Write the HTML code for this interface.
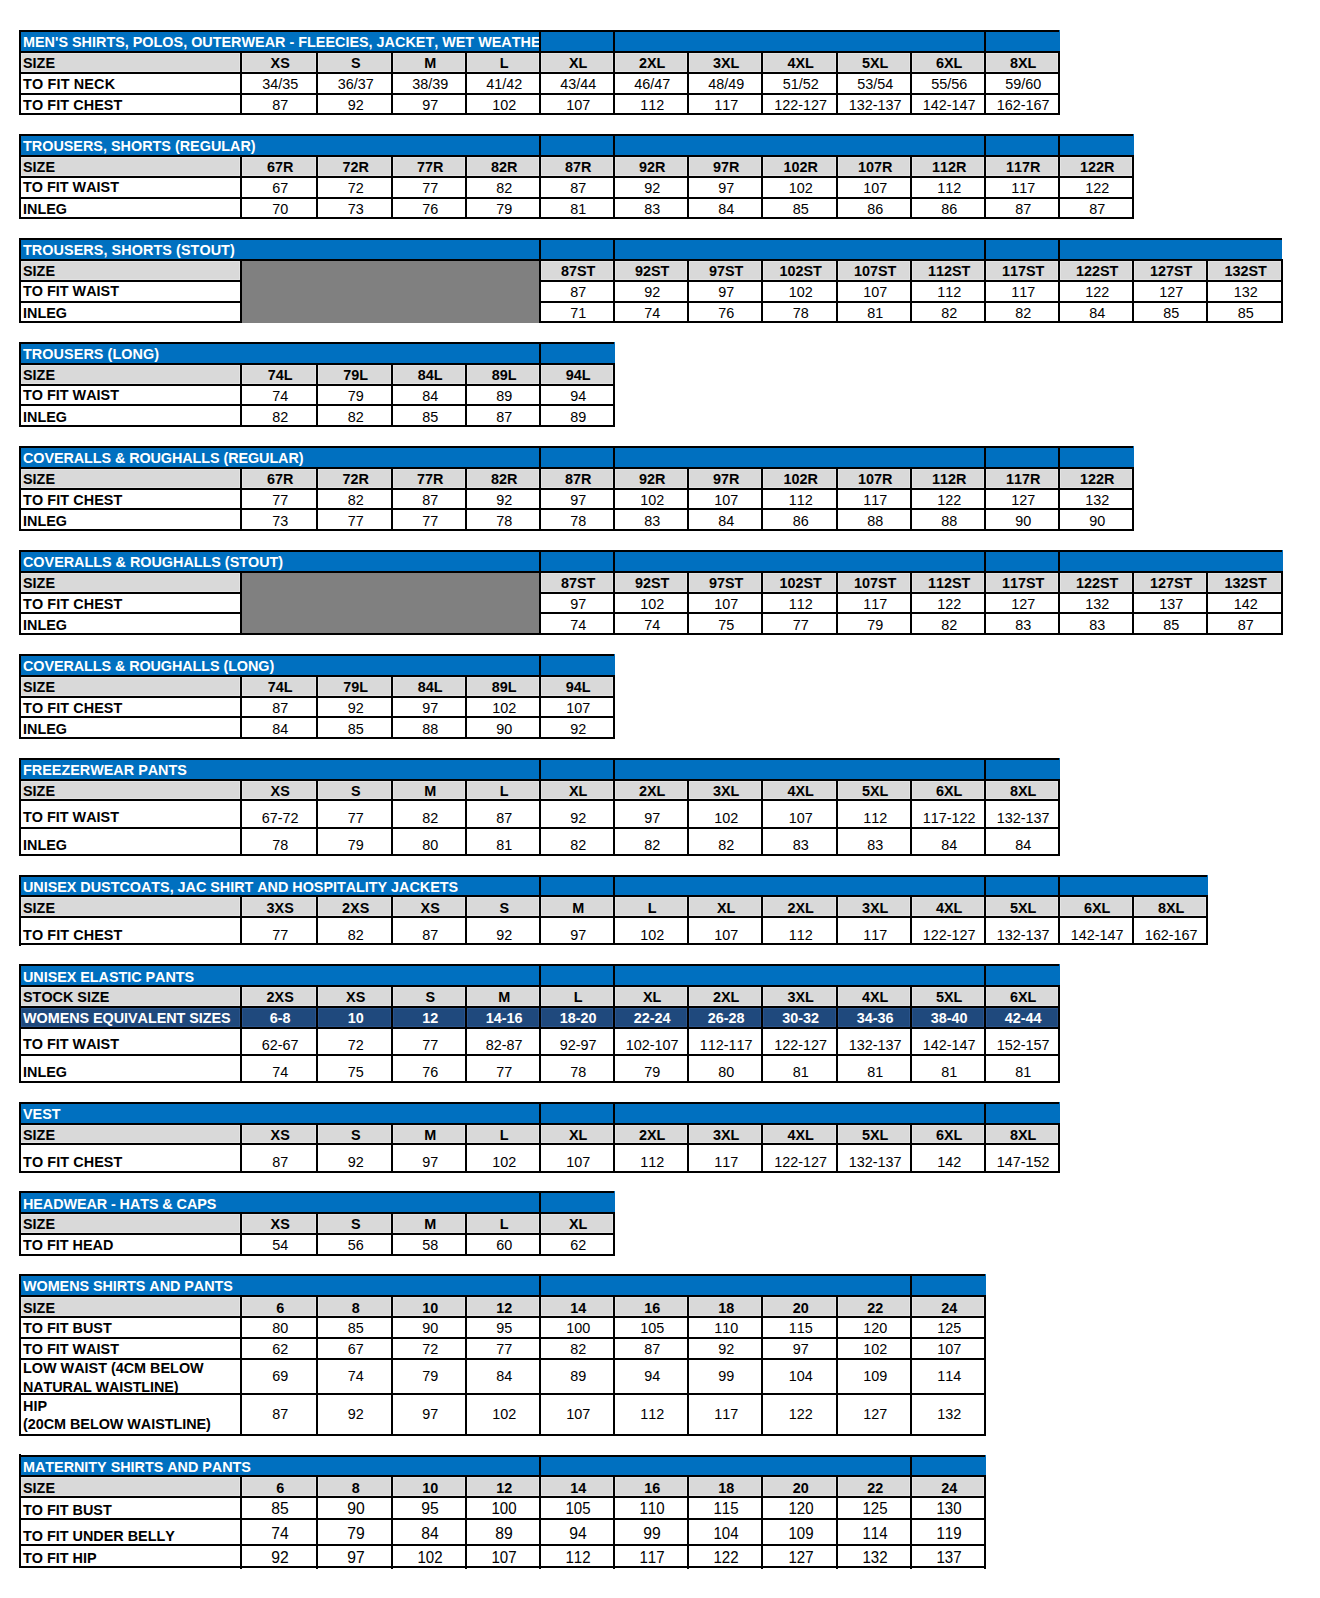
<!DOCTYPE html>
<html><head><meta charset="utf-8"><title>Size Chart</title>
<style>
html,body{margin:0;padding:0;background:#fff}
body{width:1320px;height:1598px;position:relative;overflow:hidden;font-family:"Liberation Sans",sans-serif}
.r{position:absolute}
.t{position:absolute;white-space:nowrap;line-height:20px;height:20px;font-kerning:none}
</style></head><body>
<div class="r" style="left:19px;top:30px;width:1041px;height:22px;background:#0070C0"></div>
<div class="r" style="left:21px;top:53px;width:219px;height:19px;background:#D9D9D9;box-shadow:inset 0 0 0 1px #E3E3E3"></div>
<div class="r" style="left:242px;top:53px;width:74px;height:19px;background:#D9D9D9;box-shadow:inset 0 0 0 1px #E3E3E3"></div>
<div class="r" style="left:318px;top:53px;width:73px;height:19px;background:#D9D9D9;box-shadow:inset 0 0 0 1px #E3E3E3"></div>
<div class="r" style="left:393px;top:53px;width:72px;height:19px;background:#D9D9D9;box-shadow:inset 0 0 0 1px #E3E3E3"></div>
<div class="r" style="left:467px;top:53px;width:72px;height:19px;background:#D9D9D9;box-shadow:inset 0 0 0 1px #E3E3E3"></div>
<div class="r" style="left:541px;top:53px;width:72px;height:19px;background:#D9D9D9;box-shadow:inset 0 0 0 1px #E3E3E3"></div>
<div class="r" style="left:615px;top:53px;width:72px;height:19px;background:#D9D9D9;box-shadow:inset 0 0 0 1px #E3E3E3"></div>
<div class="r" style="left:689px;top:53px;width:72px;height:19px;background:#D9D9D9;box-shadow:inset 0 0 0 1px #E3E3E3"></div>
<div class="r" style="left:763px;top:53px;width:73px;height:19px;background:#D9D9D9;box-shadow:inset 0 0 0 1px #E3E3E3"></div>
<div class="r" style="left:838px;top:53px;width:72px;height:19px;background:#D9D9D9;box-shadow:inset 0 0 0 1px #E3E3E3"></div>
<div class="r" style="left:912px;top:53px;width:72px;height:19px;background:#D9D9D9;box-shadow:inset 0 0 0 1px #E3E3E3"></div>
<div class="r" style="left:986px;top:53px;width:72px;height:19px;background:#D9D9D9;box-shadow:inset 0 0 0 1px #E3E3E3"></div>
<div class="r" style="left:19px;top:30px;width:1040px;height:2px;background:#000"></div>
<div class="r" style="left:19px;top:51px;width:1041px;height:2px;background:#000"></div>
<div class="r" style="left:19px;top:72px;width:1041px;height:2px;background:#000"></div>
<div class="r" style="left:19px;top:93px;width:1041px;height:2px;background:#000"></div>
<div class="r" style="left:19px;top:113px;width:1041px;height:2px;background:#000"></div>
<div class="r" style="left:19px;top:30px;width:2px;height:85px;background:#000"></div>
<div class="r" style="left:240px;top:51px;width:2px;height:64px;background:#000"></div>
<div class="r" style="left:316px;top:51px;width:2px;height:64px;background:#000"></div>
<div class="r" style="left:391px;top:51px;width:2px;height:64px;background:#000"></div>
<div class="r" style="left:465px;top:51px;width:2px;height:64px;background:#000"></div>
<div class="r" style="left:539px;top:51px;width:2px;height:64px;background:#000"></div>
<div class="r" style="left:613px;top:51px;width:2px;height:64px;background:#000"></div>
<div class="r" style="left:687px;top:51px;width:2px;height:64px;background:#000"></div>
<div class="r" style="left:761px;top:51px;width:2px;height:64px;background:#000"></div>
<div class="r" style="left:836px;top:51px;width:2px;height:64px;background:#000"></div>
<div class="r" style="left:910px;top:51px;width:2px;height:64px;background:#000"></div>
<div class="r" style="left:984px;top:51px;width:2px;height:64px;background:#000"></div>
<div class="r" style="left:1058px;top:51px;width:2px;height:64px;background:#000"></div>
<div class="r" style="left:539px;top:30px;width:2px;height:21px;background:#000"></div>
<div class="r" style="left:613px;top:30px;width:2px;height:21px;background:#000"></div>
<div class="r" style="left:984px;top:30px;width:2px;height:21px;background:#000"></div>
<div class="t" style="top:32.01px;font-size:14.4px;font-weight:bold;color:#fff;left:23px;width:516px;overflow:hidden;">MEN&#x27;S SHIRTS, POLOS, OUTERWEAR - FLEECIES, JACKET, WET WEATHER</div>
<div class="t" style="top:53.01px;font-size:14.4px;font-weight:bold;left:23px;">SIZE</div>
<div class="t" style="top:53.01px;font-size:14.4px;font-weight:bold;left:220.20px;width:120px;text-align:center;">XS</div>
<div class="t" style="top:53.01px;font-size:14.4px;font-weight:bold;left:295.70px;width:120px;text-align:center;">S</div>
<div class="t" style="top:53.01px;font-size:14.4px;font-weight:bold;left:370.20px;width:120px;text-align:center;">M</div>
<div class="t" style="top:53.01px;font-size:14.4px;font-weight:bold;left:444.20px;width:120px;text-align:center;">L</div>
<div class="t" style="top:53.01px;font-size:14.4px;font-weight:bold;left:518.20px;width:120px;text-align:center;">XL</div>
<div class="t" style="top:53.01px;font-size:14.4px;font-weight:bold;left:592.20px;width:120px;text-align:center;">2XL</div>
<div class="t" style="top:53.01px;font-size:14.4px;font-weight:bold;left:666.20px;width:120px;text-align:center;">3XL</div>
<div class="t" style="top:53.01px;font-size:14.4px;font-weight:bold;left:740.70px;width:120px;text-align:center;">4XL</div>
<div class="t" style="top:53.01px;font-size:14.4px;font-weight:bold;left:815.20px;width:120px;text-align:center;">5XL</div>
<div class="t" style="top:53.01px;font-size:14.4px;font-weight:bold;left:889.20px;width:120px;text-align:center;">6XL</div>
<div class="t" style="top:53.01px;font-size:14.4px;font-weight:bold;left:963.20px;width:120px;text-align:center;">8XL</div>
<div class="t" style="top:74.01px;font-size:14.4px;font-weight:bold;left:23px;letter-spacing:0.175px;">TO FIT NECK</div>
<div class="t" style="top:74.01px;font-size:14.4px;left:220.20px;width:120px;text-align:center;">34/35</div>
<div class="t" style="top:74.01px;font-size:14.4px;left:295.70px;width:120px;text-align:center;">36/37</div>
<div class="t" style="top:74.01px;font-size:14.4px;left:370.20px;width:120px;text-align:center;">38/39</div>
<div class="t" style="top:74.01px;font-size:14.4px;left:444.20px;width:120px;text-align:center;">41/42</div>
<div class="t" style="top:74.01px;font-size:14.4px;left:518.20px;width:120px;text-align:center;">43/44</div>
<div class="t" style="top:74.01px;font-size:14.4px;left:592.20px;width:120px;text-align:center;">46/47</div>
<div class="t" style="top:74.01px;font-size:14.4px;left:666.20px;width:120px;text-align:center;">48/49</div>
<div class="t" style="top:74.01px;font-size:14.4px;left:740.70px;width:120px;text-align:center;">51/52</div>
<div class="t" style="top:74.01px;font-size:14.4px;left:815.20px;width:120px;text-align:center;">53/54</div>
<div class="t" style="top:74.01px;font-size:14.4px;left:889.20px;width:120px;text-align:center;">55/56</div>
<div class="t" style="top:74.01px;font-size:14.4px;left:963.20px;width:120px;text-align:center;">59/60</div>
<div class="t" style="top:95.01px;font-size:14.4px;font-weight:bold;left:23px;letter-spacing:0.09px;">TO FIT CHEST</div>
<div class="t" style="top:95.01px;font-size:14.4px;left:220.20px;width:120px;text-align:center;">87</div>
<div class="t" style="top:95.01px;font-size:14.4px;left:295.70px;width:120px;text-align:center;">92</div>
<div class="t" style="top:95.01px;font-size:14.4px;left:370.20px;width:120px;text-align:center;">97</div>
<div class="t" style="top:95.01px;font-size:14.4px;left:444.20px;width:120px;text-align:center;">102</div>
<div class="t" style="top:95.01px;font-size:14.4px;left:518.20px;width:120px;text-align:center;">107</div>
<div class="t" style="top:95.01px;font-size:14.4px;left:592.20px;width:120px;text-align:center;">112</div>
<div class="t" style="top:95.01px;font-size:14.4px;left:666.20px;width:120px;text-align:center;">117</div>
<div class="t" style="top:95.01px;font-size:14.4px;left:740.70px;width:120px;text-align:center;">122-127</div>
<div class="t" style="top:95.01px;font-size:14.4px;left:815.20px;width:120px;text-align:center;">132-137</div>
<div class="t" style="top:95.01px;font-size:14.4px;left:889.20px;width:120px;text-align:center;">142-147</div>
<div class="t" style="top:95.01px;font-size:14.4px;left:963.20px;width:120px;text-align:center;">162-167</div>
<div class="r" style="left:19px;top:134px;width:1115px;height:22px;background:#0070C0"></div>
<div class="r" style="left:21px;top:157px;width:219px;height:19px;background:#D9D9D9;box-shadow:inset 0 0 0 1px #E3E3E3"></div>
<div class="r" style="left:242px;top:157px;width:74px;height:19px;background:#D9D9D9;box-shadow:inset 0 0 0 1px #E3E3E3"></div>
<div class="r" style="left:318px;top:157px;width:73px;height:19px;background:#D9D9D9;box-shadow:inset 0 0 0 1px #E3E3E3"></div>
<div class="r" style="left:393px;top:157px;width:72px;height:19px;background:#D9D9D9;box-shadow:inset 0 0 0 1px #E3E3E3"></div>
<div class="r" style="left:467px;top:157px;width:72px;height:19px;background:#D9D9D9;box-shadow:inset 0 0 0 1px #E3E3E3"></div>
<div class="r" style="left:541px;top:157px;width:72px;height:19px;background:#D9D9D9;box-shadow:inset 0 0 0 1px #E3E3E3"></div>
<div class="r" style="left:615px;top:157px;width:72px;height:19px;background:#D9D9D9;box-shadow:inset 0 0 0 1px #E3E3E3"></div>
<div class="r" style="left:689px;top:157px;width:72px;height:19px;background:#D9D9D9;box-shadow:inset 0 0 0 1px #E3E3E3"></div>
<div class="r" style="left:763px;top:157px;width:73px;height:19px;background:#D9D9D9;box-shadow:inset 0 0 0 1px #E3E3E3"></div>
<div class="r" style="left:838px;top:157px;width:72px;height:19px;background:#D9D9D9;box-shadow:inset 0 0 0 1px #E3E3E3"></div>
<div class="r" style="left:912px;top:157px;width:72px;height:19px;background:#D9D9D9;box-shadow:inset 0 0 0 1px #E3E3E3"></div>
<div class="r" style="left:986px;top:157px;width:72px;height:19px;background:#D9D9D9;box-shadow:inset 0 0 0 1px #E3E3E3"></div>
<div class="r" style="left:1060px;top:157px;width:72px;height:19px;background:#D9D9D9;box-shadow:inset 0 0 0 1px #E3E3E3"></div>
<div class="r" style="left:19px;top:134px;width:1114px;height:2px;background:#000"></div>
<div class="r" style="left:19px;top:155px;width:1115px;height:2px;background:#000"></div>
<div class="r" style="left:19px;top:176px;width:1115px;height:2px;background:#000"></div>
<div class="r" style="left:19px;top:197px;width:1115px;height:2px;background:#000"></div>
<div class="r" style="left:19px;top:217px;width:1115px;height:2px;background:#000"></div>
<div class="r" style="left:19px;top:134px;width:2px;height:85px;background:#000"></div>
<div class="r" style="left:240px;top:155px;width:2px;height:64px;background:#000"></div>
<div class="r" style="left:316px;top:155px;width:2px;height:64px;background:#000"></div>
<div class="r" style="left:391px;top:155px;width:2px;height:64px;background:#000"></div>
<div class="r" style="left:465px;top:155px;width:2px;height:64px;background:#000"></div>
<div class="r" style="left:539px;top:155px;width:2px;height:64px;background:#000"></div>
<div class="r" style="left:613px;top:155px;width:2px;height:64px;background:#000"></div>
<div class="r" style="left:687px;top:155px;width:2px;height:64px;background:#000"></div>
<div class="r" style="left:761px;top:155px;width:2px;height:64px;background:#000"></div>
<div class="r" style="left:836px;top:155px;width:2px;height:64px;background:#000"></div>
<div class="r" style="left:910px;top:155px;width:2px;height:64px;background:#000"></div>
<div class="r" style="left:984px;top:155px;width:2px;height:64px;background:#000"></div>
<div class="r" style="left:1058px;top:155px;width:2px;height:64px;background:#000"></div>
<div class="r" style="left:1132px;top:155px;width:2px;height:64px;background:#000"></div>
<div class="r" style="left:539px;top:134px;width:2px;height:21px;background:#000"></div>
<div class="r" style="left:613px;top:134px;width:2px;height:21px;background:#000"></div>
<div class="r" style="left:984px;top:134px;width:2px;height:21px;background:#000"></div>
<div class="r" style="left:1058px;top:134px;width:2px;height:21px;background:#000"></div>
<div class="t" style="top:136.01px;font-size:14.4px;font-weight:bold;color:#fff;left:23px;">TROUSERS, SHORTS (REGULAR)</div>
<div class="t" style="top:157.01px;font-size:14.4px;font-weight:bold;left:23px;">SIZE</div>
<div class="t" style="top:157.01px;font-size:14.4px;font-weight:bold;left:220.20px;width:120px;text-align:center;">67R</div>
<div class="t" style="top:157.01px;font-size:14.4px;font-weight:bold;left:295.70px;width:120px;text-align:center;">72R</div>
<div class="t" style="top:157.01px;font-size:14.4px;font-weight:bold;left:370.20px;width:120px;text-align:center;">77R</div>
<div class="t" style="top:157.01px;font-size:14.4px;font-weight:bold;left:444.20px;width:120px;text-align:center;">82R</div>
<div class="t" style="top:157.01px;font-size:14.4px;font-weight:bold;left:518.20px;width:120px;text-align:center;">87R</div>
<div class="t" style="top:157.01px;font-size:14.4px;font-weight:bold;left:592.20px;width:120px;text-align:center;">92R</div>
<div class="t" style="top:157.01px;font-size:14.4px;font-weight:bold;left:666.20px;width:120px;text-align:center;">97R</div>
<div class="t" style="top:157.01px;font-size:14.4px;font-weight:bold;left:740.70px;width:120px;text-align:center;">102R</div>
<div class="t" style="top:157.01px;font-size:14.4px;font-weight:bold;left:815.20px;width:120px;text-align:center;">107R</div>
<div class="t" style="top:157.01px;font-size:14.4px;font-weight:bold;left:889.20px;width:120px;text-align:center;">112R</div>
<div class="t" style="top:157.01px;font-size:14.4px;font-weight:bold;left:963.20px;width:120px;text-align:center;">117R</div>
<div class="t" style="top:157.01px;font-size:14.4px;font-weight:bold;left:1037.20px;width:120px;text-align:center;">122R</div>
<div class="t" style="top:177.01px;font-size:14.4px;font-weight:bold;left:23px;">TO FIT WAIST</div>
<div class="t" style="top:178.01px;font-size:14.4px;left:220.20px;width:120px;text-align:center;">67</div>
<div class="t" style="top:178.01px;font-size:14.4px;left:295.70px;width:120px;text-align:center;">72</div>
<div class="t" style="top:178.01px;font-size:14.4px;left:370.20px;width:120px;text-align:center;">77</div>
<div class="t" style="top:178.01px;font-size:14.4px;left:444.20px;width:120px;text-align:center;">82</div>
<div class="t" style="top:178.01px;font-size:14.4px;left:518.20px;width:120px;text-align:center;">87</div>
<div class="t" style="top:178.01px;font-size:14.4px;left:592.20px;width:120px;text-align:center;">92</div>
<div class="t" style="top:178.01px;font-size:14.4px;left:666.20px;width:120px;text-align:center;">97</div>
<div class="t" style="top:178.01px;font-size:14.4px;left:740.70px;width:120px;text-align:center;">102</div>
<div class="t" style="top:178.01px;font-size:14.4px;left:815.20px;width:120px;text-align:center;">107</div>
<div class="t" style="top:178.01px;font-size:14.4px;left:889.20px;width:120px;text-align:center;">112</div>
<div class="t" style="top:178.01px;font-size:14.4px;left:963.20px;width:120px;text-align:center;">117</div>
<div class="t" style="top:178.01px;font-size:14.4px;left:1037.20px;width:120px;text-align:center;">122</div>
<div class="t" style="top:199.01px;font-size:14.4px;font-weight:bold;left:23px;">INLEG</div>
<div class="t" style="top:199.01px;font-size:14.4px;left:220.20px;width:120px;text-align:center;">70</div>
<div class="t" style="top:199.01px;font-size:14.4px;left:295.70px;width:120px;text-align:center;">73</div>
<div class="t" style="top:199.01px;font-size:14.4px;left:370.20px;width:120px;text-align:center;">76</div>
<div class="t" style="top:199.01px;font-size:14.4px;left:444.20px;width:120px;text-align:center;">79</div>
<div class="t" style="top:199.01px;font-size:14.4px;left:518.20px;width:120px;text-align:center;">81</div>
<div class="t" style="top:199.01px;font-size:14.4px;left:592.20px;width:120px;text-align:center;">83</div>
<div class="t" style="top:199.01px;font-size:14.4px;left:666.20px;width:120px;text-align:center;">84</div>
<div class="t" style="top:199.01px;font-size:14.4px;left:740.70px;width:120px;text-align:center;">85</div>
<div class="t" style="top:199.01px;font-size:14.4px;left:815.20px;width:120px;text-align:center;">86</div>
<div class="t" style="top:199.01px;font-size:14.4px;left:889.20px;width:120px;text-align:center;">86</div>
<div class="t" style="top:199.01px;font-size:14.4px;left:963.20px;width:120px;text-align:center;">87</div>
<div class="t" style="top:199.01px;font-size:14.4px;left:1037.20px;width:120px;text-align:center;">87</div>
<div class="r" style="left:19px;top:238px;width:1263px;height:22px;background:#0070C0"></div>
<div class="r" style="left:21px;top:261px;width:219px;height:19px;background:#D9D9D9;box-shadow:inset 0 0 0 1px #E3E3E3"></div>
<div class="r" style="left:541px;top:261px;width:72px;height:19px;background:#D9D9D9;box-shadow:inset 0 0 0 1px #E3E3E3"></div>
<div class="r" style="left:615px;top:261px;width:72px;height:19px;background:#D9D9D9;box-shadow:inset 0 0 0 1px #E3E3E3"></div>
<div class="r" style="left:689px;top:261px;width:72px;height:19px;background:#D9D9D9;box-shadow:inset 0 0 0 1px #E3E3E3"></div>
<div class="r" style="left:763px;top:261px;width:73px;height:19px;background:#D9D9D9;box-shadow:inset 0 0 0 1px #E3E3E3"></div>
<div class="r" style="left:838px;top:261px;width:72px;height:19px;background:#D9D9D9;box-shadow:inset 0 0 0 1px #E3E3E3"></div>
<div class="r" style="left:912px;top:261px;width:72px;height:19px;background:#D9D9D9;box-shadow:inset 0 0 0 1px #E3E3E3"></div>
<div class="r" style="left:986px;top:261px;width:72px;height:19px;background:#D9D9D9;box-shadow:inset 0 0 0 1px #E3E3E3"></div>
<div class="r" style="left:1060px;top:261px;width:72px;height:19px;background:#D9D9D9;box-shadow:inset 0 0 0 1px #E3E3E3"></div>
<div class="r" style="left:1134px;top:261px;width:72px;height:19px;background:#D9D9D9;box-shadow:inset 0 0 0 1px #E3E3E3"></div>
<div class="r" style="left:1208px;top:261px;width:73px;height:19px;background:#D9D9D9;box-shadow:inset 0 0 0 1px #E3E3E3"></div>
<div class="r" style="left:19px;top:238px;width:1263px;height:2px;background:#000"></div>
<div class="r" style="left:19px;top:259px;width:1264px;height:2px;background:#000"></div>
<div class="r" style="left:19px;top:280px;width:223px;height:2px;background:#000"></div>
<div class="r" style="left:539px;top:280px;width:744px;height:2px;background:#000"></div>
<div class="r" style="left:19px;top:301px;width:223px;height:2px;background:#000"></div>
<div class="r" style="left:539px;top:301px;width:744px;height:2px;background:#000"></div>
<div class="r" style="left:19px;top:321px;width:1264px;height:2px;background:#000"></div>
<div class="r" style="left:19px;top:238px;width:2px;height:85px;background:#000"></div>
<div class="r" style="left:240px;top:259px;width:2px;height:64px;background:#000"></div>
<div class="r" style="left:539px;top:259px;width:2px;height:64px;background:#000"></div>
<div class="r" style="left:613px;top:259px;width:2px;height:64px;background:#000"></div>
<div class="r" style="left:687px;top:259px;width:2px;height:64px;background:#000"></div>
<div class="r" style="left:761px;top:259px;width:2px;height:64px;background:#000"></div>
<div class="r" style="left:836px;top:259px;width:2px;height:64px;background:#000"></div>
<div class="r" style="left:910px;top:259px;width:2px;height:64px;background:#000"></div>
<div class="r" style="left:984px;top:259px;width:2px;height:64px;background:#000"></div>
<div class="r" style="left:1058px;top:259px;width:2px;height:64px;background:#000"></div>
<div class="r" style="left:1132px;top:259px;width:2px;height:64px;background:#000"></div>
<div class="r" style="left:1206px;top:259px;width:2px;height:64px;background:#000"></div>
<div class="r" style="left:1281px;top:259px;width:2px;height:64px;background:#000"></div>
<div class="r" style="left:539px;top:238px;width:2px;height:21px;background:#000"></div>
<div class="r" style="left:613px;top:238px;width:2px;height:21px;background:#000"></div>
<div class="r" style="left:984px;top:238px;width:2px;height:21px;background:#000"></div>
<div class="r" style="left:1058px;top:238px;width:2px;height:21px;background:#000"></div>
<div class="r" style="left:242px;top:261px;width:297px;height:62px;background:#808080"></div>
<div class="t" style="top:240.01px;font-size:14.4px;font-weight:bold;color:#fff;left:23px;letter-spacing:0.065px;">TROUSERS, SHORTS (STOUT)</div>
<div class="t" style="top:261.01px;font-size:14.4px;font-weight:bold;left:23px;">SIZE</div>
<div class="t" style="top:261.01px;font-size:14.4px;font-weight:bold;left:518.20px;width:120px;text-align:center;">87ST</div>
<div class="t" style="top:261.01px;font-size:14.4px;font-weight:bold;left:592.20px;width:120px;text-align:center;">92ST</div>
<div class="t" style="top:261.01px;font-size:14.4px;font-weight:bold;left:666.20px;width:120px;text-align:center;">97ST</div>
<div class="t" style="top:261.01px;font-size:14.4px;font-weight:bold;left:740.70px;width:120px;text-align:center;">102ST</div>
<div class="t" style="top:261.01px;font-size:14.4px;font-weight:bold;left:815.20px;width:120px;text-align:center;">107ST</div>
<div class="t" style="top:261.01px;font-size:14.4px;font-weight:bold;left:889.20px;width:120px;text-align:center;">112ST</div>
<div class="t" style="top:261.01px;font-size:14.4px;font-weight:bold;left:963.20px;width:120px;text-align:center;">117ST</div>
<div class="t" style="top:261.01px;font-size:14.4px;font-weight:bold;left:1037.20px;width:120px;text-align:center;">122ST</div>
<div class="t" style="top:261.01px;font-size:14.4px;font-weight:bold;left:1111.20px;width:120px;text-align:center;">127ST</div>
<div class="t" style="top:261.01px;font-size:14.4px;font-weight:bold;left:1185.70px;width:120px;text-align:center;">132ST</div>
<div class="t" style="top:281.01px;font-size:14.4px;font-weight:bold;left:23px;">TO FIT WAIST</div>
<div class="t" style="top:282.01px;font-size:14.4px;left:518.20px;width:120px;text-align:center;">87</div>
<div class="t" style="top:282.01px;font-size:14.4px;left:592.20px;width:120px;text-align:center;">92</div>
<div class="t" style="top:282.01px;font-size:14.4px;left:666.20px;width:120px;text-align:center;">97</div>
<div class="t" style="top:282.01px;font-size:14.4px;left:740.70px;width:120px;text-align:center;">102</div>
<div class="t" style="top:282.01px;font-size:14.4px;left:815.20px;width:120px;text-align:center;">107</div>
<div class="t" style="top:282.01px;font-size:14.4px;left:889.20px;width:120px;text-align:center;">112</div>
<div class="t" style="top:282.01px;font-size:14.4px;left:963.20px;width:120px;text-align:center;">117</div>
<div class="t" style="top:282.01px;font-size:14.4px;left:1037.20px;width:120px;text-align:center;">122</div>
<div class="t" style="top:282.01px;font-size:14.4px;left:1111.20px;width:120px;text-align:center;">127</div>
<div class="t" style="top:282.01px;font-size:14.4px;left:1185.70px;width:120px;text-align:center;">132</div>
<div class="t" style="top:303.01px;font-size:14.4px;font-weight:bold;left:23px;">INLEG</div>
<div class="t" style="top:303.01px;font-size:14.4px;left:518.20px;width:120px;text-align:center;">71</div>
<div class="t" style="top:303.01px;font-size:14.4px;left:592.20px;width:120px;text-align:center;">74</div>
<div class="t" style="top:303.01px;font-size:14.4px;left:666.20px;width:120px;text-align:center;">76</div>
<div class="t" style="top:303.01px;font-size:14.4px;left:740.70px;width:120px;text-align:center;">78</div>
<div class="t" style="top:303.01px;font-size:14.4px;left:815.20px;width:120px;text-align:center;">81</div>
<div class="t" style="top:303.01px;font-size:14.4px;left:889.20px;width:120px;text-align:center;">82</div>
<div class="t" style="top:303.01px;font-size:14.4px;left:963.20px;width:120px;text-align:center;">82</div>
<div class="t" style="top:303.01px;font-size:14.4px;left:1037.20px;width:120px;text-align:center;">84</div>
<div class="t" style="top:303.01px;font-size:14.4px;left:1111.20px;width:120px;text-align:center;">85</div>
<div class="t" style="top:303.01px;font-size:14.4px;left:1185.70px;width:120px;text-align:center;">85</div>
<div class="r" style="left:19px;top:342px;width:596px;height:22px;background:#0070C0"></div>
<div class="r" style="left:21px;top:365px;width:219px;height:19px;background:#D9D9D9;box-shadow:inset 0 0 0 1px #E3E3E3"></div>
<div class="r" style="left:242px;top:365px;width:74px;height:19px;background:#D9D9D9;box-shadow:inset 0 0 0 1px #E3E3E3"></div>
<div class="r" style="left:318px;top:365px;width:73px;height:19px;background:#D9D9D9;box-shadow:inset 0 0 0 1px #E3E3E3"></div>
<div class="r" style="left:393px;top:365px;width:72px;height:19px;background:#D9D9D9;box-shadow:inset 0 0 0 1px #E3E3E3"></div>
<div class="r" style="left:467px;top:365px;width:72px;height:19px;background:#D9D9D9;box-shadow:inset 0 0 0 1px #E3E3E3"></div>
<div class="r" style="left:541px;top:365px;width:72px;height:19px;background:#D9D9D9;box-shadow:inset 0 0 0 1px #E3E3E3"></div>
<div class="r" style="left:19px;top:342px;width:595px;height:2px;background:#000"></div>
<div class="r" style="left:19px;top:363px;width:596px;height:2px;background:#000"></div>
<div class="r" style="left:19px;top:384px;width:596px;height:2px;background:#000"></div>
<div class="r" style="left:19px;top:404px;width:596px;height:2px;background:#000"></div>
<div class="r" style="left:19px;top:425px;width:596px;height:2px;background:#000"></div>
<div class="r" style="left:19px;top:342px;width:2px;height:85px;background:#000"></div>
<div class="r" style="left:240px;top:363px;width:2px;height:64px;background:#000"></div>
<div class="r" style="left:316px;top:363px;width:2px;height:64px;background:#000"></div>
<div class="r" style="left:391px;top:363px;width:2px;height:64px;background:#000"></div>
<div class="r" style="left:465px;top:363px;width:2px;height:64px;background:#000"></div>
<div class="r" style="left:539px;top:363px;width:2px;height:64px;background:#000"></div>
<div class="r" style="left:613px;top:363px;width:2px;height:64px;background:#000"></div>
<div class="r" style="left:539px;top:342px;width:2px;height:21px;background:#000"></div>
<div class="t" style="top:344.01px;font-size:14.4px;font-weight:bold;color:#fff;left:23px;letter-spacing:0.07px;">TROUSERS (LONG)</div>
<div class="t" style="top:365.01px;font-size:14.4px;font-weight:bold;left:23px;">SIZE</div>
<div class="t" style="top:365.01px;font-size:14.4px;font-weight:bold;left:220.20px;width:120px;text-align:center;">74L</div>
<div class="t" style="top:365.01px;font-size:14.4px;font-weight:bold;left:295.70px;width:120px;text-align:center;">79L</div>
<div class="t" style="top:365.01px;font-size:14.4px;font-weight:bold;left:370.20px;width:120px;text-align:center;">84L</div>
<div class="t" style="top:365.01px;font-size:14.4px;font-weight:bold;left:444.20px;width:120px;text-align:center;">89L</div>
<div class="t" style="top:365.01px;font-size:14.4px;font-weight:bold;left:518.20px;width:120px;text-align:center;">94L</div>
<div class="t" style="top:385.01px;font-size:14.4px;font-weight:bold;left:23px;">TO FIT WAIST</div>
<div class="t" style="top:386.01px;font-size:14.4px;left:220.20px;width:120px;text-align:center;">74</div>
<div class="t" style="top:386.01px;font-size:14.4px;left:295.70px;width:120px;text-align:center;">79</div>
<div class="t" style="top:386.01px;font-size:14.4px;left:370.20px;width:120px;text-align:center;">84</div>
<div class="t" style="top:386.01px;font-size:14.4px;left:444.20px;width:120px;text-align:center;">89</div>
<div class="t" style="top:386.01px;font-size:14.4px;left:518.20px;width:120px;text-align:center;">94</div>
<div class="t" style="top:407.01px;font-size:14.4px;font-weight:bold;left:23px;">INLEG</div>
<div class="t" style="top:407.01px;font-size:14.4px;left:220.20px;width:120px;text-align:center;">82</div>
<div class="t" style="top:407.01px;font-size:14.4px;left:295.70px;width:120px;text-align:center;">82</div>
<div class="t" style="top:407.01px;font-size:14.4px;left:370.20px;width:120px;text-align:center;">85</div>
<div class="t" style="top:407.01px;font-size:14.4px;left:444.20px;width:120px;text-align:center;">87</div>
<div class="t" style="top:407.01px;font-size:14.4px;left:518.20px;width:120px;text-align:center;">89</div>
<div class="r" style="left:19px;top:446px;width:1115px;height:22px;background:#0070C0"></div>
<div class="r" style="left:21px;top:469px;width:219px;height:19px;background:#D9D9D9;box-shadow:inset 0 0 0 1px #E3E3E3"></div>
<div class="r" style="left:242px;top:469px;width:74px;height:19px;background:#D9D9D9;box-shadow:inset 0 0 0 1px #E3E3E3"></div>
<div class="r" style="left:318px;top:469px;width:73px;height:19px;background:#D9D9D9;box-shadow:inset 0 0 0 1px #E3E3E3"></div>
<div class="r" style="left:393px;top:469px;width:72px;height:19px;background:#D9D9D9;box-shadow:inset 0 0 0 1px #E3E3E3"></div>
<div class="r" style="left:467px;top:469px;width:72px;height:19px;background:#D9D9D9;box-shadow:inset 0 0 0 1px #E3E3E3"></div>
<div class="r" style="left:541px;top:469px;width:72px;height:19px;background:#D9D9D9;box-shadow:inset 0 0 0 1px #E3E3E3"></div>
<div class="r" style="left:615px;top:469px;width:72px;height:19px;background:#D9D9D9;box-shadow:inset 0 0 0 1px #E3E3E3"></div>
<div class="r" style="left:689px;top:469px;width:72px;height:19px;background:#D9D9D9;box-shadow:inset 0 0 0 1px #E3E3E3"></div>
<div class="r" style="left:763px;top:469px;width:73px;height:19px;background:#D9D9D9;box-shadow:inset 0 0 0 1px #E3E3E3"></div>
<div class="r" style="left:838px;top:469px;width:72px;height:19px;background:#D9D9D9;box-shadow:inset 0 0 0 1px #E3E3E3"></div>
<div class="r" style="left:912px;top:469px;width:72px;height:19px;background:#D9D9D9;box-shadow:inset 0 0 0 1px #E3E3E3"></div>
<div class="r" style="left:986px;top:469px;width:72px;height:19px;background:#D9D9D9;box-shadow:inset 0 0 0 1px #E3E3E3"></div>
<div class="r" style="left:1060px;top:469px;width:72px;height:19px;background:#D9D9D9;box-shadow:inset 0 0 0 1px #E3E3E3"></div>
<div class="r" style="left:19px;top:446px;width:1114px;height:2px;background:#000"></div>
<div class="r" style="left:19px;top:467px;width:1115px;height:2px;background:#000"></div>
<div class="r" style="left:19px;top:488px;width:1115px;height:2px;background:#000"></div>
<div class="r" style="left:19px;top:508px;width:1115px;height:2px;background:#000"></div>
<div class="r" style="left:19px;top:529px;width:1115px;height:2px;background:#000"></div>
<div class="r" style="left:19px;top:446px;width:2px;height:85px;background:#000"></div>
<div class="r" style="left:240px;top:467px;width:2px;height:64px;background:#000"></div>
<div class="r" style="left:316px;top:467px;width:2px;height:64px;background:#000"></div>
<div class="r" style="left:391px;top:467px;width:2px;height:64px;background:#000"></div>
<div class="r" style="left:465px;top:467px;width:2px;height:64px;background:#000"></div>
<div class="r" style="left:539px;top:467px;width:2px;height:64px;background:#000"></div>
<div class="r" style="left:613px;top:467px;width:2px;height:64px;background:#000"></div>
<div class="r" style="left:687px;top:467px;width:2px;height:64px;background:#000"></div>
<div class="r" style="left:761px;top:467px;width:2px;height:64px;background:#000"></div>
<div class="r" style="left:836px;top:467px;width:2px;height:64px;background:#000"></div>
<div class="r" style="left:910px;top:467px;width:2px;height:64px;background:#000"></div>
<div class="r" style="left:984px;top:467px;width:2px;height:64px;background:#000"></div>
<div class="r" style="left:1058px;top:467px;width:2px;height:64px;background:#000"></div>
<div class="r" style="left:1132px;top:467px;width:2px;height:64px;background:#000"></div>
<div class="r" style="left:539px;top:446px;width:2px;height:21px;background:#000"></div>
<div class="r" style="left:613px;top:446px;width:2px;height:21px;background:#000"></div>
<div class="r" style="left:984px;top:446px;width:2px;height:21px;background:#000"></div>
<div class="r" style="left:1058px;top:446px;width:2px;height:21px;background:#000"></div>
<div class="t" style="top:448.01px;font-size:14.4px;font-weight:bold;color:#fff;left:23px;letter-spacing:-0.083px;">COVERALLS &amp; ROUGHALLS (REGULAR)</div>
<div class="t" style="top:469.01px;font-size:14.4px;font-weight:bold;left:23px;">SIZE</div>
<div class="t" style="top:469.01px;font-size:14.4px;font-weight:bold;left:220.20px;width:120px;text-align:center;">67R</div>
<div class="t" style="top:469.01px;font-size:14.4px;font-weight:bold;left:295.70px;width:120px;text-align:center;">72R</div>
<div class="t" style="top:469.01px;font-size:14.4px;font-weight:bold;left:370.20px;width:120px;text-align:center;">77R</div>
<div class="t" style="top:469.01px;font-size:14.4px;font-weight:bold;left:444.20px;width:120px;text-align:center;">82R</div>
<div class="t" style="top:469.01px;font-size:14.4px;font-weight:bold;left:518.20px;width:120px;text-align:center;">87R</div>
<div class="t" style="top:469.01px;font-size:14.4px;font-weight:bold;left:592.20px;width:120px;text-align:center;">92R</div>
<div class="t" style="top:469.01px;font-size:14.4px;font-weight:bold;left:666.20px;width:120px;text-align:center;">97R</div>
<div class="t" style="top:469.01px;font-size:14.4px;font-weight:bold;left:740.70px;width:120px;text-align:center;">102R</div>
<div class="t" style="top:469.01px;font-size:14.4px;font-weight:bold;left:815.20px;width:120px;text-align:center;">107R</div>
<div class="t" style="top:469.01px;font-size:14.4px;font-weight:bold;left:889.20px;width:120px;text-align:center;">112R</div>
<div class="t" style="top:469.01px;font-size:14.4px;font-weight:bold;left:963.20px;width:120px;text-align:center;">117R</div>
<div class="t" style="top:469.01px;font-size:14.4px;font-weight:bold;left:1037.20px;width:120px;text-align:center;">122R</div>
<div class="t" style="top:490.01px;font-size:14.4px;font-weight:bold;left:23px;letter-spacing:0.09px;">TO FIT CHEST</div>
<div class="t" style="top:490.01px;font-size:14.4px;left:220.20px;width:120px;text-align:center;">77</div>
<div class="t" style="top:490.01px;font-size:14.4px;left:295.70px;width:120px;text-align:center;">82</div>
<div class="t" style="top:490.01px;font-size:14.4px;left:370.20px;width:120px;text-align:center;">87</div>
<div class="t" style="top:490.01px;font-size:14.4px;left:444.20px;width:120px;text-align:center;">92</div>
<div class="t" style="top:490.01px;font-size:14.4px;left:518.20px;width:120px;text-align:center;">97</div>
<div class="t" style="top:490.01px;font-size:14.4px;left:592.20px;width:120px;text-align:center;">102</div>
<div class="t" style="top:490.01px;font-size:14.4px;left:666.20px;width:120px;text-align:center;">107</div>
<div class="t" style="top:490.01px;font-size:14.4px;left:740.70px;width:120px;text-align:center;">112</div>
<div class="t" style="top:490.01px;font-size:14.4px;left:815.20px;width:120px;text-align:center;">117</div>
<div class="t" style="top:490.01px;font-size:14.4px;left:889.20px;width:120px;text-align:center;">122</div>
<div class="t" style="top:490.01px;font-size:14.4px;left:963.20px;width:120px;text-align:center;">127</div>
<div class="t" style="top:490.01px;font-size:14.4px;left:1037.20px;width:120px;text-align:center;">132</div>
<div class="t" style="top:511.01px;font-size:14.4px;font-weight:bold;left:23px;">INLEG</div>
<div class="t" style="top:511.01px;font-size:14.4px;left:220.20px;width:120px;text-align:center;">73</div>
<div class="t" style="top:511.01px;font-size:14.4px;left:295.70px;width:120px;text-align:center;">77</div>
<div class="t" style="top:511.01px;font-size:14.4px;left:370.20px;width:120px;text-align:center;">77</div>
<div class="t" style="top:511.01px;font-size:14.4px;left:444.20px;width:120px;text-align:center;">78</div>
<div class="t" style="top:511.01px;font-size:14.4px;left:518.20px;width:120px;text-align:center;">78</div>
<div class="t" style="top:511.01px;font-size:14.4px;left:592.20px;width:120px;text-align:center;">83</div>
<div class="t" style="top:511.01px;font-size:14.4px;left:666.20px;width:120px;text-align:center;">84</div>
<div class="t" style="top:511.01px;font-size:14.4px;left:740.70px;width:120px;text-align:center;">86</div>
<div class="t" style="top:511.01px;font-size:14.4px;left:815.20px;width:120px;text-align:center;">88</div>
<div class="t" style="top:511.01px;font-size:14.4px;left:889.20px;width:120px;text-align:center;">88</div>
<div class="t" style="top:511.01px;font-size:14.4px;left:963.20px;width:120px;text-align:center;">90</div>
<div class="t" style="top:511.01px;font-size:14.4px;left:1037.20px;width:120px;text-align:center;">90</div>
<div class="r" style="left:19px;top:550px;width:1264px;height:22px;background:#0070C0"></div>
<div class="r" style="left:21px;top:573px;width:219px;height:19px;background:#D9D9D9;box-shadow:inset 0 0 0 1px #E3E3E3"></div>
<div class="r" style="left:541px;top:573px;width:72px;height:19px;background:#D9D9D9;box-shadow:inset 0 0 0 1px #E3E3E3"></div>
<div class="r" style="left:615px;top:573px;width:72px;height:19px;background:#D9D9D9;box-shadow:inset 0 0 0 1px #E3E3E3"></div>
<div class="r" style="left:689px;top:573px;width:72px;height:19px;background:#D9D9D9;box-shadow:inset 0 0 0 1px #E3E3E3"></div>
<div class="r" style="left:763px;top:573px;width:73px;height:19px;background:#D9D9D9;box-shadow:inset 0 0 0 1px #E3E3E3"></div>
<div class="r" style="left:838px;top:573px;width:72px;height:19px;background:#D9D9D9;box-shadow:inset 0 0 0 1px #E3E3E3"></div>
<div class="r" style="left:912px;top:573px;width:72px;height:19px;background:#D9D9D9;box-shadow:inset 0 0 0 1px #E3E3E3"></div>
<div class="r" style="left:986px;top:573px;width:72px;height:19px;background:#D9D9D9;box-shadow:inset 0 0 0 1px #E3E3E3"></div>
<div class="r" style="left:1060px;top:573px;width:72px;height:19px;background:#D9D9D9;box-shadow:inset 0 0 0 1px #E3E3E3"></div>
<div class="r" style="left:1134px;top:573px;width:72px;height:19px;background:#D9D9D9;box-shadow:inset 0 0 0 1px #E3E3E3"></div>
<div class="r" style="left:1208px;top:573px;width:73px;height:19px;background:#D9D9D9;box-shadow:inset 0 0 0 1px #E3E3E3"></div>
<div class="r" style="left:19px;top:550px;width:1263px;height:2px;background:#000"></div>
<div class="r" style="left:19px;top:571px;width:1264px;height:2px;background:#000"></div>
<div class="r" style="left:19px;top:592px;width:223px;height:2px;background:#000"></div>
<div class="r" style="left:539px;top:592px;width:744px;height:2px;background:#000"></div>
<div class="r" style="left:19px;top:612px;width:223px;height:2px;background:#000"></div>
<div class="r" style="left:539px;top:612px;width:744px;height:2px;background:#000"></div>
<div class="r" style="left:19px;top:633px;width:1264px;height:2px;background:#000"></div>
<div class="r" style="left:19px;top:550px;width:2px;height:85px;background:#000"></div>
<div class="r" style="left:240px;top:571px;width:2px;height:64px;background:#000"></div>
<div class="r" style="left:539px;top:571px;width:2px;height:64px;background:#000"></div>
<div class="r" style="left:613px;top:571px;width:2px;height:64px;background:#000"></div>
<div class="r" style="left:687px;top:571px;width:2px;height:64px;background:#000"></div>
<div class="r" style="left:761px;top:571px;width:2px;height:64px;background:#000"></div>
<div class="r" style="left:836px;top:571px;width:2px;height:64px;background:#000"></div>
<div class="r" style="left:910px;top:571px;width:2px;height:64px;background:#000"></div>
<div class="r" style="left:984px;top:571px;width:2px;height:64px;background:#000"></div>
<div class="r" style="left:1058px;top:571px;width:2px;height:64px;background:#000"></div>
<div class="r" style="left:1132px;top:571px;width:2px;height:64px;background:#000"></div>
<div class="r" style="left:1206px;top:571px;width:2px;height:64px;background:#000"></div>
<div class="r" style="left:1281px;top:571px;width:2px;height:64px;background:#000"></div>
<div class="r" style="left:539px;top:550px;width:2px;height:21px;background:#000"></div>
<div class="r" style="left:613px;top:550px;width:2px;height:21px;background:#000"></div>
<div class="r" style="left:984px;top:550px;width:2px;height:21px;background:#000"></div>
<div class="r" style="left:1058px;top:550px;width:2px;height:21px;background:#000"></div>
<div class="r" style="left:242px;top:573px;width:297px;height:60px;background:#808080"></div>
<div class="t" style="top:552.01px;font-size:14.4px;font-weight:bold;color:#fff;left:23px;letter-spacing:-0.018px;">COVERALLS &amp; ROUGHALLS (STOUT)</div>
<div class="t" style="top:573.01px;font-size:14.4px;font-weight:bold;left:23px;">SIZE</div>
<div class="t" style="top:573.01px;font-size:14.4px;font-weight:bold;left:518.20px;width:120px;text-align:center;">87ST</div>
<div class="t" style="top:573.01px;font-size:14.4px;font-weight:bold;left:592.20px;width:120px;text-align:center;">92ST</div>
<div class="t" style="top:573.01px;font-size:14.4px;font-weight:bold;left:666.20px;width:120px;text-align:center;">97ST</div>
<div class="t" style="top:573.01px;font-size:14.4px;font-weight:bold;left:740.70px;width:120px;text-align:center;">102ST</div>
<div class="t" style="top:573.01px;font-size:14.4px;font-weight:bold;left:815.20px;width:120px;text-align:center;">107ST</div>
<div class="t" style="top:573.01px;font-size:14.4px;font-weight:bold;left:889.20px;width:120px;text-align:center;">112ST</div>
<div class="t" style="top:573.01px;font-size:14.4px;font-weight:bold;left:963.20px;width:120px;text-align:center;">117ST</div>
<div class="t" style="top:573.01px;font-size:14.4px;font-weight:bold;left:1037.20px;width:120px;text-align:center;">122ST</div>
<div class="t" style="top:573.01px;font-size:14.4px;font-weight:bold;left:1111.20px;width:120px;text-align:center;">127ST</div>
<div class="t" style="top:573.01px;font-size:14.4px;font-weight:bold;left:1185.70px;width:120px;text-align:center;">132ST</div>
<div class="t" style="top:594.01px;font-size:14.4px;font-weight:bold;left:23px;letter-spacing:0.09px;">TO FIT CHEST</div>
<div class="t" style="top:594.01px;font-size:14.4px;left:518.20px;width:120px;text-align:center;">97</div>
<div class="t" style="top:594.01px;font-size:14.4px;left:592.20px;width:120px;text-align:center;">102</div>
<div class="t" style="top:594.01px;font-size:14.4px;left:666.20px;width:120px;text-align:center;">107</div>
<div class="t" style="top:594.01px;font-size:14.4px;left:740.70px;width:120px;text-align:center;">112</div>
<div class="t" style="top:594.01px;font-size:14.4px;left:815.20px;width:120px;text-align:center;">117</div>
<div class="t" style="top:594.01px;font-size:14.4px;left:889.20px;width:120px;text-align:center;">122</div>
<div class="t" style="top:594.01px;font-size:14.4px;left:963.20px;width:120px;text-align:center;">127</div>
<div class="t" style="top:594.01px;font-size:14.4px;left:1037.20px;width:120px;text-align:center;">132</div>
<div class="t" style="top:594.01px;font-size:14.4px;left:1111.20px;width:120px;text-align:center;">137</div>
<div class="t" style="top:594.01px;font-size:14.4px;left:1185.70px;width:120px;text-align:center;">142</div>
<div class="t" style="top:615.01px;font-size:14.4px;font-weight:bold;left:23px;">INLEG</div>
<div class="t" style="top:615.01px;font-size:14.4px;left:518.20px;width:120px;text-align:center;">74</div>
<div class="t" style="top:615.01px;font-size:14.4px;left:592.20px;width:120px;text-align:center;">74</div>
<div class="t" style="top:615.01px;font-size:14.4px;left:666.20px;width:120px;text-align:center;">75</div>
<div class="t" style="top:615.01px;font-size:14.4px;left:740.70px;width:120px;text-align:center;">77</div>
<div class="t" style="top:615.01px;font-size:14.4px;left:815.20px;width:120px;text-align:center;">79</div>
<div class="t" style="top:615.01px;font-size:14.4px;left:889.20px;width:120px;text-align:center;">82</div>
<div class="t" style="top:615.01px;font-size:14.4px;left:963.20px;width:120px;text-align:center;">83</div>
<div class="t" style="top:615.01px;font-size:14.4px;left:1037.20px;width:120px;text-align:center;">83</div>
<div class="t" style="top:615.01px;font-size:14.4px;left:1111.20px;width:120px;text-align:center;">85</div>
<div class="t" style="top:615.01px;font-size:14.4px;left:1185.70px;width:120px;text-align:center;">87</div>
<div class="r" style="left:19px;top:654px;width:596px;height:22px;background:#0070C0"></div>
<div class="r" style="left:21px;top:677px;width:219px;height:19px;background:#D9D9D9;box-shadow:inset 0 0 0 1px #E3E3E3"></div>
<div class="r" style="left:242px;top:677px;width:74px;height:19px;background:#D9D9D9;box-shadow:inset 0 0 0 1px #E3E3E3"></div>
<div class="r" style="left:318px;top:677px;width:73px;height:19px;background:#D9D9D9;box-shadow:inset 0 0 0 1px #E3E3E3"></div>
<div class="r" style="left:393px;top:677px;width:72px;height:19px;background:#D9D9D9;box-shadow:inset 0 0 0 1px #E3E3E3"></div>
<div class="r" style="left:467px;top:677px;width:72px;height:19px;background:#D9D9D9;box-shadow:inset 0 0 0 1px #E3E3E3"></div>
<div class="r" style="left:541px;top:677px;width:72px;height:19px;background:#D9D9D9;box-shadow:inset 0 0 0 1px #E3E3E3"></div>
<div class="r" style="left:19px;top:654px;width:595px;height:2px;background:#000"></div>
<div class="r" style="left:19px;top:675px;width:596px;height:2px;background:#000"></div>
<div class="r" style="left:19px;top:696px;width:596px;height:2px;background:#000"></div>
<div class="r" style="left:19px;top:716px;width:596px;height:2px;background:#000"></div>
<div class="r" style="left:19px;top:737px;width:596px;height:2px;background:#000"></div>
<div class="r" style="left:19px;top:654px;width:2px;height:85px;background:#000"></div>
<div class="r" style="left:240px;top:675px;width:2px;height:64px;background:#000"></div>
<div class="r" style="left:316px;top:675px;width:2px;height:64px;background:#000"></div>
<div class="r" style="left:391px;top:675px;width:2px;height:64px;background:#000"></div>
<div class="r" style="left:465px;top:675px;width:2px;height:64px;background:#000"></div>
<div class="r" style="left:539px;top:675px;width:2px;height:64px;background:#000"></div>
<div class="r" style="left:613px;top:675px;width:2px;height:64px;background:#000"></div>
<div class="r" style="left:539px;top:654px;width:2px;height:21px;background:#000"></div>
<div class="t" style="top:656.01px;font-size:14.4px;font-weight:bold;color:#fff;left:23px;letter-spacing:-0.083px;">COVERALLS &amp; ROUGHALLS (LONG)</div>
<div class="t" style="top:677.01px;font-size:14.4px;font-weight:bold;left:23px;">SIZE</div>
<div class="t" style="top:677.01px;font-size:14.4px;font-weight:bold;left:220.20px;width:120px;text-align:center;">74L</div>
<div class="t" style="top:677.01px;font-size:14.4px;font-weight:bold;left:295.70px;width:120px;text-align:center;">79L</div>
<div class="t" style="top:677.01px;font-size:14.4px;font-weight:bold;left:370.20px;width:120px;text-align:center;">84L</div>
<div class="t" style="top:677.01px;font-size:14.4px;font-weight:bold;left:444.20px;width:120px;text-align:center;">89L</div>
<div class="t" style="top:677.01px;font-size:14.4px;font-weight:bold;left:518.20px;width:120px;text-align:center;">94L</div>
<div class="t" style="top:698.01px;font-size:14.4px;font-weight:bold;left:23px;letter-spacing:0.09px;">TO FIT CHEST</div>
<div class="t" style="top:698.01px;font-size:14.4px;left:220.20px;width:120px;text-align:center;">87</div>
<div class="t" style="top:698.01px;font-size:14.4px;left:295.70px;width:120px;text-align:center;">92</div>
<div class="t" style="top:698.01px;font-size:14.4px;left:370.20px;width:120px;text-align:center;">97</div>
<div class="t" style="top:698.01px;font-size:14.4px;left:444.20px;width:120px;text-align:center;">102</div>
<div class="t" style="top:698.01px;font-size:14.4px;left:518.20px;width:120px;text-align:center;">107</div>
<div class="t" style="top:719.01px;font-size:14.4px;font-weight:bold;left:23px;">INLEG</div>
<div class="t" style="top:719.01px;font-size:14.4px;left:220.20px;width:120px;text-align:center;">84</div>
<div class="t" style="top:719.01px;font-size:14.4px;left:295.70px;width:120px;text-align:center;">85</div>
<div class="t" style="top:719.01px;font-size:14.4px;left:370.20px;width:120px;text-align:center;">88</div>
<div class="t" style="top:719.01px;font-size:14.4px;left:444.20px;width:120px;text-align:center;">90</div>
<div class="t" style="top:719.01px;font-size:14.4px;left:518.20px;width:120px;text-align:center;">92</div>
<div class="r" style="left:19px;top:758px;width:1041px;height:22px;background:#0070C0"></div>
<div class="r" style="left:21px;top:781px;width:219px;height:18px;background:#D9D9D9;box-shadow:inset 0 0 0 1px #E3E3E3"></div>
<div class="r" style="left:242px;top:781px;width:74px;height:18px;background:#D9D9D9;box-shadow:inset 0 0 0 1px #E3E3E3"></div>
<div class="r" style="left:318px;top:781px;width:73px;height:18px;background:#D9D9D9;box-shadow:inset 0 0 0 1px #E3E3E3"></div>
<div class="r" style="left:393px;top:781px;width:72px;height:18px;background:#D9D9D9;box-shadow:inset 0 0 0 1px #E3E3E3"></div>
<div class="r" style="left:467px;top:781px;width:72px;height:18px;background:#D9D9D9;box-shadow:inset 0 0 0 1px #E3E3E3"></div>
<div class="r" style="left:541px;top:781px;width:72px;height:18px;background:#D9D9D9;box-shadow:inset 0 0 0 1px #E3E3E3"></div>
<div class="r" style="left:615px;top:781px;width:72px;height:18px;background:#D9D9D9;box-shadow:inset 0 0 0 1px #E3E3E3"></div>
<div class="r" style="left:689px;top:781px;width:72px;height:18px;background:#D9D9D9;box-shadow:inset 0 0 0 1px #E3E3E3"></div>
<div class="r" style="left:763px;top:781px;width:73px;height:18px;background:#D9D9D9;box-shadow:inset 0 0 0 1px #E3E3E3"></div>
<div class="r" style="left:838px;top:781px;width:72px;height:18px;background:#D9D9D9;box-shadow:inset 0 0 0 1px #E3E3E3"></div>
<div class="r" style="left:912px;top:781px;width:72px;height:18px;background:#D9D9D9;box-shadow:inset 0 0 0 1px #E3E3E3"></div>
<div class="r" style="left:986px;top:781px;width:72px;height:18px;background:#D9D9D9;box-shadow:inset 0 0 0 1px #E3E3E3"></div>
<div class="r" style="left:19px;top:758px;width:1040px;height:2px;background:#000"></div>
<div class="r" style="left:19px;top:779px;width:1041px;height:2px;background:#000"></div>
<div class="r" style="left:19px;top:799px;width:1041px;height:2px;background:#000"></div>
<div class="r" style="left:19px;top:827px;width:1041px;height:2px;background:#000"></div>
<div class="r" style="left:19px;top:854px;width:1041px;height:2px;background:#000"></div>
<div class="r" style="left:19px;top:758px;width:2px;height:98px;background:#000"></div>
<div class="r" style="left:240px;top:779px;width:2px;height:77px;background:#000"></div>
<div class="r" style="left:316px;top:779px;width:2px;height:77px;background:#000"></div>
<div class="r" style="left:391px;top:779px;width:2px;height:77px;background:#000"></div>
<div class="r" style="left:465px;top:779px;width:2px;height:77px;background:#000"></div>
<div class="r" style="left:539px;top:779px;width:2px;height:77px;background:#000"></div>
<div class="r" style="left:613px;top:779px;width:2px;height:77px;background:#000"></div>
<div class="r" style="left:687px;top:779px;width:2px;height:77px;background:#000"></div>
<div class="r" style="left:761px;top:779px;width:2px;height:77px;background:#000"></div>
<div class="r" style="left:836px;top:779px;width:2px;height:77px;background:#000"></div>
<div class="r" style="left:910px;top:779px;width:2px;height:77px;background:#000"></div>
<div class="r" style="left:984px;top:779px;width:2px;height:77px;background:#000"></div>
<div class="r" style="left:1058px;top:779px;width:2px;height:77px;background:#000"></div>
<div class="r" style="left:539px;top:758px;width:2px;height:21px;background:#000"></div>
<div class="r" style="left:613px;top:758px;width:2px;height:21px;background:#000"></div>
<div class="r" style="left:984px;top:758px;width:2px;height:21px;background:#000"></div>
<div class="t" style="top:760.01px;font-size:14.4px;font-weight:bold;color:#fff;left:23px;">FREEZERWEAR PANTS</div>
<div class="t" style="top:781.01px;font-size:14.4px;font-weight:bold;left:23px;">SIZE</div>
<div class="t" style="top:781.01px;font-size:14.4px;font-weight:bold;left:220.20px;width:120px;text-align:center;">XS</div>
<div class="t" style="top:781.01px;font-size:14.4px;font-weight:bold;left:295.70px;width:120px;text-align:center;">S</div>
<div class="t" style="top:781.01px;font-size:14.4px;font-weight:bold;left:370.20px;width:120px;text-align:center;">M</div>
<div class="t" style="top:781.01px;font-size:14.4px;font-weight:bold;left:444.20px;width:120px;text-align:center;">L</div>
<div class="t" style="top:781.01px;font-size:14.4px;font-weight:bold;left:518.20px;width:120px;text-align:center;">XL</div>
<div class="t" style="top:781.01px;font-size:14.4px;font-weight:bold;left:592.20px;width:120px;text-align:center;">2XL</div>
<div class="t" style="top:781.01px;font-size:14.4px;font-weight:bold;left:666.20px;width:120px;text-align:center;">3XL</div>
<div class="t" style="top:781.01px;font-size:14.4px;font-weight:bold;left:740.70px;width:120px;text-align:center;">4XL</div>
<div class="t" style="top:781.01px;font-size:14.4px;font-weight:bold;left:815.20px;width:120px;text-align:center;">5XL</div>
<div class="t" style="top:781.01px;font-size:14.4px;font-weight:bold;left:889.20px;width:120px;text-align:center;">6XL</div>
<div class="t" style="top:781.01px;font-size:14.4px;font-weight:bold;left:963.20px;width:120px;text-align:center;">8XL</div>
<div class="t" style="top:807.01px;font-size:14.4px;font-weight:bold;left:23px;">TO FIT WAIST</div>
<div class="t" style="top:808.01px;font-size:14.4px;left:220.20px;width:120px;text-align:center;">67-72</div>
<div class="t" style="top:808.01px;font-size:14.4px;left:295.70px;width:120px;text-align:center;">77</div>
<div class="t" style="top:808.01px;font-size:14.4px;left:370.20px;width:120px;text-align:center;">82</div>
<div class="t" style="top:808.01px;font-size:14.4px;left:444.20px;width:120px;text-align:center;">87</div>
<div class="t" style="top:808.01px;font-size:14.4px;left:518.20px;width:120px;text-align:center;">92</div>
<div class="t" style="top:808.01px;font-size:14.4px;left:592.20px;width:120px;text-align:center;">97</div>
<div class="t" style="top:808.01px;font-size:14.4px;left:666.20px;width:120px;text-align:center;">102</div>
<div class="t" style="top:808.01px;font-size:14.4px;left:740.70px;width:120px;text-align:center;">107</div>
<div class="t" style="top:808.01px;font-size:14.4px;left:815.20px;width:120px;text-align:center;">112</div>
<div class="t" style="top:808.01px;font-size:14.4px;left:889.20px;width:120px;text-align:center;">117-122</div>
<div class="t" style="top:808.01px;font-size:14.4px;left:963.20px;width:120px;text-align:center;">132-137</div>
<div class="t" style="top:835.01px;font-size:14.4px;font-weight:bold;left:23px;">INLEG</div>
<div class="t" style="top:835.01px;font-size:14.4px;left:220.20px;width:120px;text-align:center;">78</div>
<div class="t" style="top:835.01px;font-size:14.4px;left:295.70px;width:120px;text-align:center;">79</div>
<div class="t" style="top:835.01px;font-size:14.4px;left:370.20px;width:120px;text-align:center;">80</div>
<div class="t" style="top:835.01px;font-size:14.4px;left:444.20px;width:120px;text-align:center;">81</div>
<div class="t" style="top:835.01px;font-size:14.4px;left:518.20px;width:120px;text-align:center;">82</div>
<div class="t" style="top:835.01px;font-size:14.4px;left:592.20px;width:120px;text-align:center;">82</div>
<div class="t" style="top:835.01px;font-size:14.4px;left:666.20px;width:120px;text-align:center;">82</div>
<div class="t" style="top:835.01px;font-size:14.4px;left:740.70px;width:120px;text-align:center;">83</div>
<div class="t" style="top:835.01px;font-size:14.4px;left:815.20px;width:120px;text-align:center;">83</div>
<div class="t" style="top:835.01px;font-size:14.4px;left:889.20px;width:120px;text-align:center;">84</div>
<div class="t" style="top:835.01px;font-size:14.4px;left:963.20px;width:120px;text-align:center;">84</div>
<div class="r" style="left:19px;top:875px;width:1189px;height:21px;background:#0070C0"></div>
<div class="r" style="left:21px;top:897px;width:219px;height:19px;background:#D9D9D9;box-shadow:inset 0 0 0 1px #E3E3E3"></div>
<div class="r" style="left:242px;top:897px;width:74px;height:19px;background:#D9D9D9;box-shadow:inset 0 0 0 1px #E3E3E3"></div>
<div class="r" style="left:318px;top:897px;width:73px;height:19px;background:#D9D9D9;box-shadow:inset 0 0 0 1px #E3E3E3"></div>
<div class="r" style="left:393px;top:897px;width:72px;height:19px;background:#D9D9D9;box-shadow:inset 0 0 0 1px #E3E3E3"></div>
<div class="r" style="left:467px;top:897px;width:72px;height:19px;background:#D9D9D9;box-shadow:inset 0 0 0 1px #E3E3E3"></div>
<div class="r" style="left:541px;top:897px;width:72px;height:19px;background:#D9D9D9;box-shadow:inset 0 0 0 1px #E3E3E3"></div>
<div class="r" style="left:615px;top:897px;width:72px;height:19px;background:#D9D9D9;box-shadow:inset 0 0 0 1px #E3E3E3"></div>
<div class="r" style="left:689px;top:897px;width:72px;height:19px;background:#D9D9D9;box-shadow:inset 0 0 0 1px #E3E3E3"></div>
<div class="r" style="left:763px;top:897px;width:73px;height:19px;background:#D9D9D9;box-shadow:inset 0 0 0 1px #E3E3E3"></div>
<div class="r" style="left:838px;top:897px;width:72px;height:19px;background:#D9D9D9;box-shadow:inset 0 0 0 1px #E3E3E3"></div>
<div class="r" style="left:912px;top:897px;width:72px;height:19px;background:#D9D9D9;box-shadow:inset 0 0 0 1px #E3E3E3"></div>
<div class="r" style="left:986px;top:897px;width:72px;height:19px;background:#D9D9D9;box-shadow:inset 0 0 0 1px #E3E3E3"></div>
<div class="r" style="left:1060px;top:897px;width:72px;height:19px;background:#D9D9D9;box-shadow:inset 0 0 0 1px #E3E3E3"></div>
<div class="r" style="left:1134px;top:897px;width:72px;height:19px;background:#D9D9D9;box-shadow:inset 0 0 0 1px #E3E3E3"></div>
<div class="r" style="left:19px;top:875px;width:1188px;height:2px;background:#000"></div>
<div class="r" style="left:19px;top:895px;width:1189px;height:2px;background:#000"></div>
<div class="r" style="left:19px;top:916px;width:1189px;height:2px;background:#000"></div>
<div class="r" style="left:19px;top:943px;width:1189px;height:2px;background:#000"></div>
<div class="r" style="left:19px;top:875px;width:2px;height:70px;background:#000"></div>
<div class="r" style="left:240px;top:895px;width:2px;height:50px;background:#000"></div>
<div class="r" style="left:316px;top:895px;width:2px;height:50px;background:#000"></div>
<div class="r" style="left:391px;top:895px;width:2px;height:50px;background:#000"></div>
<div class="r" style="left:465px;top:895px;width:2px;height:50px;background:#000"></div>
<div class="r" style="left:539px;top:895px;width:2px;height:50px;background:#000"></div>
<div class="r" style="left:613px;top:895px;width:2px;height:50px;background:#000"></div>
<div class="r" style="left:687px;top:895px;width:2px;height:50px;background:#000"></div>
<div class="r" style="left:761px;top:895px;width:2px;height:50px;background:#000"></div>
<div class="r" style="left:836px;top:895px;width:2px;height:50px;background:#000"></div>
<div class="r" style="left:910px;top:895px;width:2px;height:50px;background:#000"></div>
<div class="r" style="left:984px;top:895px;width:2px;height:50px;background:#000"></div>
<div class="r" style="left:1058px;top:895px;width:2px;height:50px;background:#000"></div>
<div class="r" style="left:1132px;top:895px;width:2px;height:50px;background:#000"></div>
<div class="r" style="left:1206px;top:895px;width:2px;height:50px;background:#000"></div>
<div class="r" style="left:539px;top:875px;width:2px;height:20px;background:#000"></div>
<div class="r" style="left:613px;top:875px;width:2px;height:20px;background:#000"></div>
<div class="r" style="left:984px;top:875px;width:2px;height:20px;background:#000"></div>
<div class="r" style="left:1058px;top:875px;width:2px;height:20px;background:#000"></div>
<div class="t" style="top:877.01px;font-size:14.4px;font-weight:bold;color:#fff;left:23px;letter-spacing:-0.03px;">UNISEX DUSTCOATS, JAC SHIRT AND HOSPITALITY JACKETS</div>
<div class="t" style="top:898.01px;font-size:14.4px;font-weight:bold;left:23px;">SIZE</div>
<div class="t" style="top:898.01px;font-size:14.4px;font-weight:bold;left:220.20px;width:120px;text-align:center;">3XS</div>
<div class="t" style="top:898.01px;font-size:14.4px;font-weight:bold;left:295.70px;width:120px;text-align:center;">2XS</div>
<div class="t" style="top:898.01px;font-size:14.4px;font-weight:bold;left:370.20px;width:120px;text-align:center;">XS</div>
<div class="t" style="top:898.01px;font-size:14.4px;font-weight:bold;left:444.20px;width:120px;text-align:center;">S</div>
<div class="t" style="top:898.01px;font-size:14.4px;font-weight:bold;left:518.20px;width:120px;text-align:center;">M</div>
<div class="t" style="top:898.01px;font-size:14.4px;font-weight:bold;left:592.20px;width:120px;text-align:center;">L</div>
<div class="t" style="top:898.01px;font-size:14.4px;font-weight:bold;left:666.20px;width:120px;text-align:center;">XL</div>
<div class="t" style="top:898.01px;font-size:14.4px;font-weight:bold;left:740.70px;width:120px;text-align:center;">2XL</div>
<div class="t" style="top:898.01px;font-size:14.4px;font-weight:bold;left:815.20px;width:120px;text-align:center;">3XL</div>
<div class="t" style="top:898.01px;font-size:14.4px;font-weight:bold;left:889.20px;width:120px;text-align:center;">4XL</div>
<div class="t" style="top:898.01px;font-size:14.4px;font-weight:bold;left:963.20px;width:120px;text-align:center;">5XL</div>
<div class="t" style="top:898.01px;font-size:14.4px;font-weight:bold;left:1037.20px;width:120px;text-align:center;">6XL</div>
<div class="t" style="top:898.01px;font-size:14.4px;font-weight:bold;left:1111.20px;width:120px;text-align:center;">8XL</div>
<div class="t" style="top:925.01px;font-size:14.4px;font-weight:bold;left:23px;letter-spacing:0.09px;">TO FIT CHEST</div>
<div class="t" style="top:925.01px;font-size:14.4px;left:220.20px;width:120px;text-align:center;">77</div>
<div class="t" style="top:925.01px;font-size:14.4px;left:295.70px;width:120px;text-align:center;">82</div>
<div class="t" style="top:925.01px;font-size:14.4px;left:370.20px;width:120px;text-align:center;">87</div>
<div class="t" style="top:925.01px;font-size:14.4px;left:444.20px;width:120px;text-align:center;">92</div>
<div class="t" style="top:925.01px;font-size:14.4px;left:518.20px;width:120px;text-align:center;">97</div>
<div class="t" style="top:925.01px;font-size:14.4px;left:592.20px;width:120px;text-align:center;">102</div>
<div class="t" style="top:925.01px;font-size:14.4px;left:666.20px;width:120px;text-align:center;">107</div>
<div class="t" style="top:925.01px;font-size:14.4px;left:740.70px;width:120px;text-align:center;">112</div>
<div class="t" style="top:925.01px;font-size:14.4px;left:815.20px;width:120px;text-align:center;">117</div>
<div class="t" style="top:925.01px;font-size:14.4px;left:889.20px;width:120px;text-align:center;">122-127</div>
<div class="t" style="top:925.01px;font-size:14.4px;left:963.20px;width:120px;text-align:center;">132-137</div>
<div class="t" style="top:925.01px;font-size:14.4px;left:1037.20px;width:120px;text-align:center;">142-147</div>
<div class="t" style="top:925.01px;font-size:14.4px;left:1111.20px;width:120px;text-align:center;">162-167</div>
<div class="r" style="left:19px;top:964px;width:1041px;height:22px;background:#0070C0"></div>
<div class="r" style="left:21px;top:987px;width:219px;height:19px;background:#D9D9D9;box-shadow:inset 0 0 0 1px #E3E3E3"></div>
<div class="r" style="left:242px;top:987px;width:74px;height:19px;background:#D9D9D9;box-shadow:inset 0 0 0 1px #E3E3E3"></div>
<div class="r" style="left:318px;top:987px;width:73px;height:19px;background:#D9D9D9;box-shadow:inset 0 0 0 1px #E3E3E3"></div>
<div class="r" style="left:393px;top:987px;width:72px;height:19px;background:#D9D9D9;box-shadow:inset 0 0 0 1px #E3E3E3"></div>
<div class="r" style="left:467px;top:987px;width:72px;height:19px;background:#D9D9D9;box-shadow:inset 0 0 0 1px #E3E3E3"></div>
<div class="r" style="left:541px;top:987px;width:72px;height:19px;background:#D9D9D9;box-shadow:inset 0 0 0 1px #E3E3E3"></div>
<div class="r" style="left:615px;top:987px;width:72px;height:19px;background:#D9D9D9;box-shadow:inset 0 0 0 1px #E3E3E3"></div>
<div class="r" style="left:689px;top:987px;width:72px;height:19px;background:#D9D9D9;box-shadow:inset 0 0 0 1px #E3E3E3"></div>
<div class="r" style="left:763px;top:987px;width:73px;height:19px;background:#D9D9D9;box-shadow:inset 0 0 0 1px #E3E3E3"></div>
<div class="r" style="left:838px;top:987px;width:72px;height:19px;background:#D9D9D9;box-shadow:inset 0 0 0 1px #E3E3E3"></div>
<div class="r" style="left:912px;top:987px;width:72px;height:19px;background:#D9D9D9;box-shadow:inset 0 0 0 1px #E3E3E3"></div>
<div class="r" style="left:986px;top:987px;width:72px;height:19px;background:#D9D9D9;box-shadow:inset 0 0 0 1px #E3E3E3"></div>
<div class="r" style="left:21px;top:1008px;width:219px;height:19px;background:#1F497D;box-shadow:inset 0 0 0 1px #2A548C"></div>
<div class="r" style="left:242px;top:1008px;width:74px;height:19px;background:#1F497D;box-shadow:inset 0 0 0 1px #2A548C"></div>
<div class="r" style="left:318px;top:1008px;width:73px;height:19px;background:#1F497D;box-shadow:inset 0 0 0 1px #2A548C"></div>
<div class="r" style="left:393px;top:1008px;width:72px;height:19px;background:#1F497D;box-shadow:inset 0 0 0 1px #2A548C"></div>
<div class="r" style="left:467px;top:1008px;width:72px;height:19px;background:#1F497D;box-shadow:inset 0 0 0 1px #2A548C"></div>
<div class="r" style="left:541px;top:1008px;width:72px;height:19px;background:#1F497D;box-shadow:inset 0 0 0 1px #2A548C"></div>
<div class="r" style="left:615px;top:1008px;width:72px;height:19px;background:#1F497D;box-shadow:inset 0 0 0 1px #2A548C"></div>
<div class="r" style="left:689px;top:1008px;width:72px;height:19px;background:#1F497D;box-shadow:inset 0 0 0 1px #2A548C"></div>
<div class="r" style="left:763px;top:1008px;width:73px;height:19px;background:#1F497D;box-shadow:inset 0 0 0 1px #2A548C"></div>
<div class="r" style="left:838px;top:1008px;width:72px;height:19px;background:#1F497D;box-shadow:inset 0 0 0 1px #2A548C"></div>
<div class="r" style="left:912px;top:1008px;width:72px;height:19px;background:#1F497D;box-shadow:inset 0 0 0 1px #2A548C"></div>
<div class="r" style="left:986px;top:1008px;width:72px;height:19px;background:#1F497D;box-shadow:inset 0 0 0 1px #2A548C"></div>
<div class="r" style="left:19px;top:964px;width:1040px;height:2px;background:#000"></div>
<div class="r" style="left:19px;top:985px;width:1041px;height:2px;background:#000"></div>
<div class="r" style="left:19px;top:1006px;width:1041px;height:2px;background:#000"></div>
<div class="r" style="left:19px;top:1027px;width:1041px;height:2px;background:#000"></div>
<div class="r" style="left:19px;top:1054px;width:1041px;height:2px;background:#000"></div>
<div class="r" style="left:19px;top:1081px;width:1041px;height:2px;background:#000"></div>
<div class="r" style="left:19px;top:964px;width:2px;height:119px;background:#000"></div>
<div class="r" style="left:240px;top:985px;width:2px;height:98px;background:#000"></div>
<div class="r" style="left:316px;top:985px;width:2px;height:98px;background:#000"></div>
<div class="r" style="left:391px;top:985px;width:2px;height:98px;background:#000"></div>
<div class="r" style="left:465px;top:985px;width:2px;height:98px;background:#000"></div>
<div class="r" style="left:539px;top:985px;width:2px;height:98px;background:#000"></div>
<div class="r" style="left:613px;top:985px;width:2px;height:98px;background:#000"></div>
<div class="r" style="left:687px;top:985px;width:2px;height:98px;background:#000"></div>
<div class="r" style="left:761px;top:985px;width:2px;height:98px;background:#000"></div>
<div class="r" style="left:836px;top:985px;width:2px;height:98px;background:#000"></div>
<div class="r" style="left:910px;top:985px;width:2px;height:98px;background:#000"></div>
<div class="r" style="left:984px;top:985px;width:2px;height:98px;background:#000"></div>
<div class="r" style="left:1058px;top:985px;width:2px;height:98px;background:#000"></div>
<div class="r" style="left:539px;top:964px;width:2px;height:21px;background:#000"></div>
<div class="r" style="left:613px;top:964px;width:2px;height:21px;background:#000"></div>
<div class="r" style="left:984px;top:964px;width:2px;height:21px;background:#000"></div>
<div class="t" style="top:967.01px;font-size:14.4px;font-weight:bold;color:#fff;left:23px;letter-spacing:-0.04px;">UNISEX ELASTIC PANTS</div>
<div class="t" style="top:987.01px;font-size:14.4px;font-weight:bold;left:23px;">STOCK SIZE</div>
<div class="t" style="top:987.01px;font-size:14.4px;font-weight:bold;left:220.20px;width:120px;text-align:center;">2XS</div>
<div class="t" style="top:987.01px;font-size:14.4px;font-weight:bold;left:295.70px;width:120px;text-align:center;">XS</div>
<div class="t" style="top:987.01px;font-size:14.4px;font-weight:bold;left:370.20px;width:120px;text-align:center;">S</div>
<div class="t" style="top:987.01px;font-size:14.4px;font-weight:bold;left:444.20px;width:120px;text-align:center;">M</div>
<div class="t" style="top:987.01px;font-size:14.4px;font-weight:bold;left:518.20px;width:120px;text-align:center;">L</div>
<div class="t" style="top:987.01px;font-size:14.4px;font-weight:bold;left:592.20px;width:120px;text-align:center;">XL</div>
<div class="t" style="top:987.01px;font-size:14.4px;font-weight:bold;left:666.20px;width:120px;text-align:center;">2XL</div>
<div class="t" style="top:987.01px;font-size:14.4px;font-weight:bold;left:740.70px;width:120px;text-align:center;">3XL</div>
<div class="t" style="top:987.01px;font-size:14.4px;font-weight:bold;left:815.20px;width:120px;text-align:center;">4XL</div>
<div class="t" style="top:987.01px;font-size:14.4px;font-weight:bold;left:889.20px;width:120px;text-align:center;">5XL</div>
<div class="t" style="top:987.01px;font-size:14.4px;font-weight:bold;left:963.20px;width:120px;text-align:center;">6XL</div>
<div class="t" style="top:1008.01px;font-size:14.4px;font-weight:bold;color:#fff;left:23px;letter-spacing:-0.045px;">WOMENS EQUIVALENT SIZES</div>
<div class="t" style="top:1008.01px;font-size:14.4px;font-weight:bold;color:#fff;left:220.20px;width:120px;text-align:center;">6-8</div>
<div class="t" style="top:1008.01px;font-size:14.4px;font-weight:bold;color:#fff;left:295.70px;width:120px;text-align:center;">10</div>
<div class="t" style="top:1008.01px;font-size:14.4px;font-weight:bold;color:#fff;left:370.20px;width:120px;text-align:center;">12</div>
<div class="t" style="top:1008.01px;font-size:14.4px;font-weight:bold;color:#fff;left:444.20px;width:120px;text-align:center;">14-16</div>
<div class="t" style="top:1008.01px;font-size:14.4px;font-weight:bold;color:#fff;left:518.20px;width:120px;text-align:center;">18-20</div>
<div class="t" style="top:1008.01px;font-size:14.4px;font-weight:bold;color:#fff;left:592.20px;width:120px;text-align:center;">22-24</div>
<div class="t" style="top:1008.01px;font-size:14.4px;font-weight:bold;color:#fff;left:666.20px;width:120px;text-align:center;">26-28</div>
<div class="t" style="top:1008.01px;font-size:14.4px;font-weight:bold;color:#fff;left:740.70px;width:120px;text-align:center;">30-32</div>
<div class="t" style="top:1008.01px;font-size:14.4px;font-weight:bold;color:#fff;left:815.20px;width:120px;text-align:center;">34-36</div>
<div class="t" style="top:1008.01px;font-size:14.4px;font-weight:bold;color:#fff;left:889.20px;width:120px;text-align:center;">38-40</div>
<div class="t" style="top:1008.01px;font-size:14.4px;font-weight:bold;color:#fff;left:963.20px;width:120px;text-align:center;">42-44</div>
<div class="t" style="top:1034.01px;font-size:14.4px;font-weight:bold;left:23px;">TO FIT WAIST</div>
<div class="t" style="top:1035.01px;font-size:14.4px;left:220.20px;width:120px;text-align:center;">62-67</div>
<div class="t" style="top:1035.01px;font-size:14.4px;left:295.70px;width:120px;text-align:center;">72</div>
<div class="t" style="top:1035.01px;font-size:14.4px;left:370.20px;width:120px;text-align:center;">77</div>
<div class="t" style="top:1035.01px;font-size:14.4px;left:444.20px;width:120px;text-align:center;">82-87</div>
<div class="t" style="top:1035.01px;font-size:14.4px;left:518.20px;width:120px;text-align:center;">92-97</div>
<div class="t" style="top:1035.01px;font-size:14.4px;left:592.20px;width:120px;text-align:center;">102-107</div>
<div class="t" style="top:1035.01px;font-size:14.4px;left:666.20px;width:120px;text-align:center;">112-117</div>
<div class="t" style="top:1035.01px;font-size:14.4px;left:740.70px;width:120px;text-align:center;">122-127</div>
<div class="t" style="top:1035.01px;font-size:14.4px;left:815.20px;width:120px;text-align:center;">132-137</div>
<div class="t" style="top:1035.01px;font-size:14.4px;left:889.20px;width:120px;text-align:center;">142-147</div>
<div class="t" style="top:1035.01px;font-size:14.4px;left:963.20px;width:120px;text-align:center;">152-157</div>
<div class="t" style="top:1062.01px;font-size:14.4px;font-weight:bold;left:23px;">INLEG</div>
<div class="t" style="top:1062.01px;font-size:14.4px;left:220.20px;width:120px;text-align:center;">74</div>
<div class="t" style="top:1062.01px;font-size:14.4px;left:295.70px;width:120px;text-align:center;">75</div>
<div class="t" style="top:1062.01px;font-size:14.4px;left:370.20px;width:120px;text-align:center;">76</div>
<div class="t" style="top:1062.01px;font-size:14.4px;left:444.20px;width:120px;text-align:center;">77</div>
<div class="t" style="top:1062.01px;font-size:14.4px;left:518.20px;width:120px;text-align:center;">78</div>
<div class="t" style="top:1062.01px;font-size:14.4px;left:592.20px;width:120px;text-align:center;">79</div>
<div class="t" style="top:1062.01px;font-size:14.4px;left:666.20px;width:120px;text-align:center;">80</div>
<div class="t" style="top:1062.01px;font-size:14.4px;left:740.70px;width:120px;text-align:center;">81</div>
<div class="t" style="top:1062.01px;font-size:14.4px;left:815.20px;width:120px;text-align:center;">81</div>
<div class="t" style="top:1062.01px;font-size:14.4px;left:889.20px;width:120px;text-align:center;">81</div>
<div class="t" style="top:1062.01px;font-size:14.4px;left:963.20px;width:120px;text-align:center;">81</div>
<div class="r" style="left:19px;top:1102px;width:1041px;height:22px;background:#0070C0"></div>
<div class="r" style="left:21px;top:1125px;width:219px;height:18px;background:#D9D9D9;box-shadow:inset 0 0 0 1px #E3E3E3"></div>
<div class="r" style="left:242px;top:1125px;width:74px;height:18px;background:#D9D9D9;box-shadow:inset 0 0 0 1px #E3E3E3"></div>
<div class="r" style="left:318px;top:1125px;width:73px;height:18px;background:#D9D9D9;box-shadow:inset 0 0 0 1px #E3E3E3"></div>
<div class="r" style="left:393px;top:1125px;width:72px;height:18px;background:#D9D9D9;box-shadow:inset 0 0 0 1px #E3E3E3"></div>
<div class="r" style="left:467px;top:1125px;width:72px;height:18px;background:#D9D9D9;box-shadow:inset 0 0 0 1px #E3E3E3"></div>
<div class="r" style="left:541px;top:1125px;width:72px;height:18px;background:#D9D9D9;box-shadow:inset 0 0 0 1px #E3E3E3"></div>
<div class="r" style="left:615px;top:1125px;width:72px;height:18px;background:#D9D9D9;box-shadow:inset 0 0 0 1px #E3E3E3"></div>
<div class="r" style="left:689px;top:1125px;width:72px;height:18px;background:#D9D9D9;box-shadow:inset 0 0 0 1px #E3E3E3"></div>
<div class="r" style="left:763px;top:1125px;width:73px;height:18px;background:#D9D9D9;box-shadow:inset 0 0 0 1px #E3E3E3"></div>
<div class="r" style="left:838px;top:1125px;width:72px;height:18px;background:#D9D9D9;box-shadow:inset 0 0 0 1px #E3E3E3"></div>
<div class="r" style="left:912px;top:1125px;width:72px;height:18px;background:#D9D9D9;box-shadow:inset 0 0 0 1px #E3E3E3"></div>
<div class="r" style="left:986px;top:1125px;width:72px;height:18px;background:#D9D9D9;box-shadow:inset 0 0 0 1px #E3E3E3"></div>
<div class="r" style="left:19px;top:1102px;width:1040px;height:2px;background:#000"></div>
<div class="r" style="left:19px;top:1123px;width:1041px;height:2px;background:#000"></div>
<div class="r" style="left:19px;top:1143px;width:1041px;height:2px;background:#000"></div>
<div class="r" style="left:19px;top:1171px;width:1041px;height:2px;background:#000"></div>
<div class="r" style="left:19px;top:1102px;width:2px;height:71px;background:#000"></div>
<div class="r" style="left:240px;top:1123px;width:2px;height:50px;background:#000"></div>
<div class="r" style="left:316px;top:1123px;width:2px;height:50px;background:#000"></div>
<div class="r" style="left:391px;top:1123px;width:2px;height:50px;background:#000"></div>
<div class="r" style="left:465px;top:1123px;width:2px;height:50px;background:#000"></div>
<div class="r" style="left:539px;top:1123px;width:2px;height:50px;background:#000"></div>
<div class="r" style="left:613px;top:1123px;width:2px;height:50px;background:#000"></div>
<div class="r" style="left:687px;top:1123px;width:2px;height:50px;background:#000"></div>
<div class="r" style="left:761px;top:1123px;width:2px;height:50px;background:#000"></div>
<div class="r" style="left:836px;top:1123px;width:2px;height:50px;background:#000"></div>
<div class="r" style="left:910px;top:1123px;width:2px;height:50px;background:#000"></div>
<div class="r" style="left:984px;top:1123px;width:2px;height:50px;background:#000"></div>
<div class="r" style="left:1058px;top:1123px;width:2px;height:50px;background:#000"></div>
<div class="r" style="left:539px;top:1102px;width:2px;height:21px;background:#000"></div>
<div class="r" style="left:613px;top:1102px;width:2px;height:21px;background:#000"></div>
<div class="r" style="left:984px;top:1102px;width:2px;height:21px;background:#000"></div>
<div class="t" style="top:1104.01px;font-size:14.4px;font-weight:bold;color:#fff;left:23px;">VEST</div>
<div class="t" style="top:1125.01px;font-size:14.4px;font-weight:bold;left:23px;">SIZE</div>
<div class="t" style="top:1125.01px;font-size:14.4px;font-weight:bold;left:220.20px;width:120px;text-align:center;">XS</div>
<div class="t" style="top:1125.01px;font-size:14.4px;font-weight:bold;left:295.70px;width:120px;text-align:center;">S</div>
<div class="t" style="top:1125.01px;font-size:14.4px;font-weight:bold;left:370.20px;width:120px;text-align:center;">M</div>
<div class="t" style="top:1125.01px;font-size:14.4px;font-weight:bold;left:444.20px;width:120px;text-align:center;">L</div>
<div class="t" style="top:1125.01px;font-size:14.4px;font-weight:bold;left:518.20px;width:120px;text-align:center;">XL</div>
<div class="t" style="top:1125.01px;font-size:14.4px;font-weight:bold;left:592.20px;width:120px;text-align:center;">2XL</div>
<div class="t" style="top:1125.01px;font-size:14.4px;font-weight:bold;left:666.20px;width:120px;text-align:center;">3XL</div>
<div class="t" style="top:1125.01px;font-size:14.4px;font-weight:bold;left:740.70px;width:120px;text-align:center;">4XL</div>
<div class="t" style="top:1125.01px;font-size:14.4px;font-weight:bold;left:815.20px;width:120px;text-align:center;">5XL</div>
<div class="t" style="top:1125.01px;font-size:14.4px;font-weight:bold;left:889.20px;width:120px;text-align:center;">6XL</div>
<div class="t" style="top:1125.01px;font-size:14.4px;font-weight:bold;left:963.20px;width:120px;text-align:center;">8XL</div>
<div class="t" style="top:1152.01px;font-size:14.4px;font-weight:bold;left:23px;letter-spacing:0.09px;">TO FIT CHEST</div>
<div class="t" style="top:1152.01px;font-size:14.4px;left:220.20px;width:120px;text-align:center;">87</div>
<div class="t" style="top:1152.01px;font-size:14.4px;left:295.70px;width:120px;text-align:center;">92</div>
<div class="t" style="top:1152.01px;font-size:14.4px;left:370.20px;width:120px;text-align:center;">97</div>
<div class="t" style="top:1152.01px;font-size:14.4px;left:444.20px;width:120px;text-align:center;">102</div>
<div class="t" style="top:1152.01px;font-size:14.4px;left:518.20px;width:120px;text-align:center;">107</div>
<div class="t" style="top:1152.01px;font-size:14.4px;left:592.20px;width:120px;text-align:center;">112</div>
<div class="t" style="top:1152.01px;font-size:14.4px;left:666.20px;width:120px;text-align:center;">117</div>
<div class="t" style="top:1152.01px;font-size:14.4px;left:740.70px;width:120px;text-align:center;">122-127</div>
<div class="t" style="top:1152.01px;font-size:14.4px;left:815.20px;width:120px;text-align:center;">132-137</div>
<div class="t" style="top:1152.01px;font-size:14.4px;left:889.20px;width:120px;text-align:center;">142</div>
<div class="t" style="top:1152.01px;font-size:14.4px;left:963.20px;width:120px;text-align:center;">147-152</div>
<div class="r" style="left:19px;top:1191px;width:596px;height:22px;background:#0070C0"></div>
<div class="r" style="left:21px;top:1214px;width:219px;height:19px;background:#D9D9D9;box-shadow:inset 0 0 0 1px #E3E3E3"></div>
<div class="r" style="left:242px;top:1214px;width:74px;height:19px;background:#D9D9D9;box-shadow:inset 0 0 0 1px #E3E3E3"></div>
<div class="r" style="left:318px;top:1214px;width:73px;height:19px;background:#D9D9D9;box-shadow:inset 0 0 0 1px #E3E3E3"></div>
<div class="r" style="left:393px;top:1214px;width:72px;height:19px;background:#D9D9D9;box-shadow:inset 0 0 0 1px #E3E3E3"></div>
<div class="r" style="left:467px;top:1214px;width:72px;height:19px;background:#D9D9D9;box-shadow:inset 0 0 0 1px #E3E3E3"></div>
<div class="r" style="left:541px;top:1214px;width:72px;height:19px;background:#D9D9D9;box-shadow:inset 0 0 0 1px #E3E3E3"></div>
<div class="r" style="left:19px;top:1191px;width:595px;height:2px;background:#000"></div>
<div class="r" style="left:19px;top:1212px;width:596px;height:2px;background:#000"></div>
<div class="r" style="left:19px;top:1233px;width:596px;height:2px;background:#000"></div>
<div class="r" style="left:19px;top:1254px;width:596px;height:2px;background:#000"></div>
<div class="r" style="left:19px;top:1191px;width:2px;height:65px;background:#000"></div>
<div class="r" style="left:240px;top:1212px;width:2px;height:44px;background:#000"></div>
<div class="r" style="left:316px;top:1212px;width:2px;height:44px;background:#000"></div>
<div class="r" style="left:391px;top:1212px;width:2px;height:44px;background:#000"></div>
<div class="r" style="left:465px;top:1212px;width:2px;height:44px;background:#000"></div>
<div class="r" style="left:539px;top:1212px;width:2px;height:44px;background:#000"></div>
<div class="r" style="left:613px;top:1212px;width:2px;height:44px;background:#000"></div>
<div class="r" style="left:539px;top:1191px;width:2px;height:21px;background:#000"></div>
<div class="t" style="top:1194.01px;font-size:14.4px;font-weight:bold;color:#fff;left:23px;letter-spacing:-0.083px;">HEADWEAR - HATS &amp; CAPS</div>
<div class="t" style="top:1214.01px;font-size:14.4px;font-weight:bold;left:23px;">SIZE</div>
<div class="t" style="top:1214.01px;font-size:14.4px;font-weight:bold;left:220.20px;width:120px;text-align:center;">XS</div>
<div class="t" style="top:1214.01px;font-size:14.4px;font-weight:bold;left:295.70px;width:120px;text-align:center;">S</div>
<div class="t" style="top:1214.01px;font-size:14.4px;font-weight:bold;left:370.20px;width:120px;text-align:center;">M</div>
<div class="t" style="top:1214.01px;font-size:14.4px;font-weight:bold;left:444.20px;width:120px;text-align:center;">L</div>
<div class="t" style="top:1214.01px;font-size:14.4px;font-weight:bold;left:518.20px;width:120px;text-align:center;">XL</div>
<div class="t" style="top:1235.01px;font-size:14.4px;font-weight:bold;left:23px;">TO FIT HEAD</div>
<div class="t" style="top:1235.01px;font-size:14.4px;left:220.20px;width:120px;text-align:center;">54</div>
<div class="t" style="top:1235.01px;font-size:14.4px;left:295.70px;width:120px;text-align:center;">56</div>
<div class="t" style="top:1235.01px;font-size:14.4px;left:370.20px;width:120px;text-align:center;">58</div>
<div class="t" style="top:1235.01px;font-size:14.4px;left:444.20px;width:120px;text-align:center;">60</div>
<div class="t" style="top:1235.01px;font-size:14.4px;left:518.20px;width:120px;text-align:center;">62</div>
<div class="r" style="left:19px;top:1274px;width:967px;height:22px;background:#0070C0"></div>
<div class="r" style="left:21px;top:1297px;width:219px;height:19px;background:#D9D9D9;box-shadow:inset 0 0 0 1px #E3E3E3"></div>
<div class="r" style="left:242px;top:1297px;width:74px;height:19px;background:#D9D9D9;box-shadow:inset 0 0 0 1px #E3E3E3"></div>
<div class="r" style="left:318px;top:1297px;width:73px;height:19px;background:#D9D9D9;box-shadow:inset 0 0 0 1px #E3E3E3"></div>
<div class="r" style="left:393px;top:1297px;width:72px;height:19px;background:#D9D9D9;box-shadow:inset 0 0 0 1px #E3E3E3"></div>
<div class="r" style="left:467px;top:1297px;width:72px;height:19px;background:#D9D9D9;box-shadow:inset 0 0 0 1px #E3E3E3"></div>
<div class="r" style="left:541px;top:1297px;width:72px;height:19px;background:#D9D9D9;box-shadow:inset 0 0 0 1px #E3E3E3"></div>
<div class="r" style="left:615px;top:1297px;width:72px;height:19px;background:#D9D9D9;box-shadow:inset 0 0 0 1px #E3E3E3"></div>
<div class="r" style="left:689px;top:1297px;width:72px;height:19px;background:#D9D9D9;box-shadow:inset 0 0 0 1px #E3E3E3"></div>
<div class="r" style="left:763px;top:1297px;width:73px;height:19px;background:#D9D9D9;box-shadow:inset 0 0 0 1px #E3E3E3"></div>
<div class="r" style="left:838px;top:1297px;width:72px;height:19px;background:#D9D9D9;box-shadow:inset 0 0 0 1px #E3E3E3"></div>
<div class="r" style="left:912px;top:1297px;width:72px;height:19px;background:#D9D9D9;box-shadow:inset 0 0 0 1px #E3E3E3"></div>
<div class="r" style="left:19px;top:1274px;width:966px;height:2px;background:#000"></div>
<div class="r" style="left:19px;top:1295px;width:967px;height:2px;background:#000"></div>
<div class="r" style="left:19px;top:1316px;width:967px;height:2px;background:#000"></div>
<div class="r" style="left:19px;top:1337px;width:967px;height:2px;background:#000"></div>
<div class="r" style="left:19px;top:1358px;width:967px;height:2px;background:#000"></div>
<div class="r" style="left:19px;top:1393px;width:967px;height:2px;background:#000"></div>
<div class="r" style="left:19px;top:1434px;width:967px;height:2px;background:#000"></div>
<div class="r" style="left:19px;top:1274px;width:2px;height:162px;background:#000"></div>
<div class="r" style="left:240px;top:1295px;width:2px;height:141px;background:#000"></div>
<div class="r" style="left:316px;top:1295px;width:2px;height:141px;background:#000"></div>
<div class="r" style="left:391px;top:1295px;width:2px;height:141px;background:#000"></div>
<div class="r" style="left:465px;top:1295px;width:2px;height:141px;background:#000"></div>
<div class="r" style="left:539px;top:1295px;width:2px;height:141px;background:#000"></div>
<div class="r" style="left:613px;top:1295px;width:2px;height:141px;background:#000"></div>
<div class="r" style="left:687px;top:1295px;width:2px;height:141px;background:#000"></div>
<div class="r" style="left:761px;top:1295px;width:2px;height:141px;background:#000"></div>
<div class="r" style="left:836px;top:1295px;width:2px;height:141px;background:#000"></div>
<div class="r" style="left:910px;top:1295px;width:2px;height:141px;background:#000"></div>
<div class="r" style="left:984px;top:1295px;width:2px;height:141px;background:#000"></div>
<div class="r" style="left:539px;top:1274px;width:2px;height:21px;background:#000"></div>
<div class="r" style="left:910px;top:1274px;width:2px;height:21px;background:#000"></div>
<div class="t" style="top:1276.01px;font-size:14.4px;font-weight:bold;color:#fff;left:23px;letter-spacing:-0.057px;">WOMENS SHIRTS AND PANTS</div>
<div class="t" style="top:1298.01px;font-size:14.4px;font-weight:bold;left:23px;">SIZE</div>
<div class="t" style="top:1298.01px;font-size:14.4px;font-weight:bold;left:220.20px;width:120px;text-align:center;">6</div>
<div class="t" style="top:1298.01px;font-size:14.4px;font-weight:bold;left:295.70px;width:120px;text-align:center;">8</div>
<div class="t" style="top:1298.01px;font-size:14.4px;font-weight:bold;left:370.20px;width:120px;text-align:center;">10</div>
<div class="t" style="top:1298.01px;font-size:14.4px;font-weight:bold;left:444.20px;width:120px;text-align:center;">12</div>
<div class="t" style="top:1298.01px;font-size:14.4px;font-weight:bold;left:518.20px;width:120px;text-align:center;">14</div>
<div class="t" style="top:1298.01px;font-size:14.4px;font-weight:bold;left:592.20px;width:120px;text-align:center;">16</div>
<div class="t" style="top:1298.01px;font-size:14.4px;font-weight:bold;left:666.20px;width:120px;text-align:center;">18</div>
<div class="t" style="top:1298.01px;font-size:14.4px;font-weight:bold;left:740.70px;width:120px;text-align:center;">20</div>
<div class="t" style="top:1298.01px;font-size:14.4px;font-weight:bold;left:815.20px;width:120px;text-align:center;">22</div>
<div class="t" style="top:1298.01px;font-size:14.4px;font-weight:bold;left:889.20px;width:120px;text-align:center;">24</div>
<div class="t" style="top:1318.01px;font-size:14.4px;font-weight:bold;left:23px;">TO FIT BUST</div>
<div class="t" style="top:1318.01px;font-size:14.4px;left:220.20px;width:120px;text-align:center;">80</div>
<div class="t" style="top:1318.01px;font-size:14.4px;left:295.70px;width:120px;text-align:center;">85</div>
<div class="t" style="top:1318.01px;font-size:14.4px;left:370.20px;width:120px;text-align:center;">90</div>
<div class="t" style="top:1318.01px;font-size:14.4px;left:444.20px;width:120px;text-align:center;">95</div>
<div class="t" style="top:1318.01px;font-size:14.4px;left:518.20px;width:120px;text-align:center;">100</div>
<div class="t" style="top:1318.01px;font-size:14.4px;left:592.20px;width:120px;text-align:center;">105</div>
<div class="t" style="top:1318.01px;font-size:14.4px;left:666.20px;width:120px;text-align:center;">110</div>
<div class="t" style="top:1318.01px;font-size:14.4px;left:740.70px;width:120px;text-align:center;">115</div>
<div class="t" style="top:1318.01px;font-size:14.4px;left:815.20px;width:120px;text-align:center;">120</div>
<div class="t" style="top:1318.01px;font-size:14.4px;left:889.20px;width:120px;text-align:center;">125</div>
<div class="t" style="top:1339.01px;font-size:14.4px;font-weight:bold;left:23px;">TO FIT WAIST</div>
<div class="t" style="top:1339.01px;font-size:14.4px;left:220.20px;width:120px;text-align:center;">62</div>
<div class="t" style="top:1339.01px;font-size:14.4px;left:295.70px;width:120px;text-align:center;">67</div>
<div class="t" style="top:1339.01px;font-size:14.4px;left:370.20px;width:120px;text-align:center;">72</div>
<div class="t" style="top:1339.01px;font-size:14.4px;left:444.20px;width:120px;text-align:center;">77</div>
<div class="t" style="top:1339.01px;font-size:14.4px;left:518.20px;width:120px;text-align:center;">82</div>
<div class="t" style="top:1339.01px;font-size:14.4px;left:592.20px;width:120px;text-align:center;">87</div>
<div class="t" style="top:1339.01px;font-size:14.4px;left:666.20px;width:120px;text-align:center;">92</div>
<div class="t" style="top:1339.01px;font-size:14.4px;left:740.70px;width:120px;text-align:center;">97</div>
<div class="t" style="top:1339.01px;font-size:14.4px;left:815.20px;width:120px;text-align:center;">102</div>
<div class="t" style="top:1339.01px;font-size:14.4px;left:889.20px;width:120px;text-align:center;">107</div>
<div class="t" style="top:1358.01px;font-size:14.4px;font-weight:bold;left:23px;">LOW WAIST (4CM BELOW</div>
<div class="t" style="top:1376.51px;font-size:14.4px;font-weight:bold;left:23px;letter-spacing:-0.118px;">NATURAL WAISTLINE)</div>
<div class="t" style="top:1366.01px;font-size:14.4px;left:220.20px;width:120px;text-align:center;">69</div>
<div class="t" style="top:1366.01px;font-size:14.4px;left:295.70px;width:120px;text-align:center;">74</div>
<div class="t" style="top:1366.01px;font-size:14.4px;left:370.20px;width:120px;text-align:center;">79</div>
<div class="t" style="top:1366.01px;font-size:14.4px;left:444.20px;width:120px;text-align:center;">84</div>
<div class="t" style="top:1366.01px;font-size:14.4px;left:518.20px;width:120px;text-align:center;">89</div>
<div class="t" style="top:1366.01px;font-size:14.4px;left:592.20px;width:120px;text-align:center;">94</div>
<div class="t" style="top:1366.01px;font-size:14.4px;left:666.20px;width:120px;text-align:center;">99</div>
<div class="t" style="top:1366.01px;font-size:14.4px;left:740.70px;width:120px;text-align:center;">104</div>
<div class="t" style="top:1366.01px;font-size:14.4px;left:815.20px;width:120px;text-align:center;">109</div>
<div class="t" style="top:1366.01px;font-size:14.4px;left:889.20px;width:120px;text-align:center;">114</div>
<div class="t" style="top:1395.51px;font-size:14.4px;font-weight:bold;left:23px;">HIP</div>
<div class="t" style="top:1414.01px;font-size:14.4px;font-weight:bold;left:23px;letter-spacing:-0.036px;">(20CM BELOW WAISTLINE)</div>
<div class="t" style="top:1404.01px;font-size:14.4px;left:220.20px;width:120px;text-align:center;">87</div>
<div class="t" style="top:1404.01px;font-size:14.4px;left:295.70px;width:120px;text-align:center;">92</div>
<div class="t" style="top:1404.01px;font-size:14.4px;left:370.20px;width:120px;text-align:center;">97</div>
<div class="t" style="top:1404.01px;font-size:14.4px;left:444.20px;width:120px;text-align:center;">102</div>
<div class="t" style="top:1404.01px;font-size:14.4px;left:518.20px;width:120px;text-align:center;">107</div>
<div class="t" style="top:1404.01px;font-size:14.4px;left:592.20px;width:120px;text-align:center;">112</div>
<div class="t" style="top:1404.01px;font-size:14.4px;left:666.20px;width:120px;text-align:center;">117</div>
<div class="t" style="top:1404.01px;font-size:14.4px;left:740.70px;width:120px;text-align:center;">122</div>
<div class="t" style="top:1404.01px;font-size:14.4px;left:815.20px;width:120px;text-align:center;">127</div>
<div class="t" style="top:1404.01px;font-size:14.4px;left:889.20px;width:120px;text-align:center;">132</div>
<div class="r" style="left:19px;top:1455px;width:967px;height:21px;background:#0070C0"></div>
<div class="r" style="left:21px;top:1477px;width:219px;height:19px;background:#D9D9D9;box-shadow:inset 0 0 0 1px #E3E3E3"></div>
<div class="r" style="left:242px;top:1477px;width:74px;height:19px;background:#D9D9D9;box-shadow:inset 0 0 0 1px #E3E3E3"></div>
<div class="r" style="left:318px;top:1477px;width:73px;height:19px;background:#D9D9D9;box-shadow:inset 0 0 0 1px #E3E3E3"></div>
<div class="r" style="left:393px;top:1477px;width:72px;height:19px;background:#D9D9D9;box-shadow:inset 0 0 0 1px #E3E3E3"></div>
<div class="r" style="left:467px;top:1477px;width:72px;height:19px;background:#D9D9D9;box-shadow:inset 0 0 0 1px #E3E3E3"></div>
<div class="r" style="left:541px;top:1477px;width:72px;height:19px;background:#D9D9D9;box-shadow:inset 0 0 0 1px #E3E3E3"></div>
<div class="r" style="left:615px;top:1477px;width:72px;height:19px;background:#D9D9D9;box-shadow:inset 0 0 0 1px #E3E3E3"></div>
<div class="r" style="left:689px;top:1477px;width:72px;height:19px;background:#D9D9D9;box-shadow:inset 0 0 0 1px #E3E3E3"></div>
<div class="r" style="left:763px;top:1477px;width:73px;height:19px;background:#D9D9D9;box-shadow:inset 0 0 0 1px #E3E3E3"></div>
<div class="r" style="left:838px;top:1477px;width:72px;height:19px;background:#D9D9D9;box-shadow:inset 0 0 0 1px #E3E3E3"></div>
<div class="r" style="left:912px;top:1477px;width:72px;height:19px;background:#D9D9D9;box-shadow:inset 0 0 0 1px #E3E3E3"></div>
<div class="r" style="left:19px;top:1455px;width:966px;height:2px;background:#000"></div>
<div class="r" style="left:19px;top:1475px;width:967px;height:2px;background:#000"></div>
<div class="r" style="left:19px;top:1496px;width:967px;height:2px;background:#000"></div>
<div class="r" style="left:19px;top:1518px;width:967px;height:2px;background:#000"></div>
<div class="r" style="left:19px;top:1544px;width:967px;height:2px;background:#000"></div>
<div class="r" style="left:19px;top:1566px;width:967px;height:2px;background:#000"></div>
<div class="r" style="left:19px;top:1455px;width:2px;height:113px;background:#000"></div>
<div class="r" style="left:240px;top:1475px;width:2px;height:94px;background:#000"></div>
<div class="r" style="left:316px;top:1475px;width:2px;height:94px;background:#000"></div>
<div class="r" style="left:391px;top:1475px;width:2px;height:94px;background:#000"></div>
<div class="r" style="left:465px;top:1475px;width:2px;height:94px;background:#000"></div>
<div class="r" style="left:539px;top:1475px;width:2px;height:94px;background:#000"></div>
<div class="r" style="left:613px;top:1475px;width:2px;height:94px;background:#000"></div>
<div class="r" style="left:687px;top:1475px;width:2px;height:94px;background:#000"></div>
<div class="r" style="left:761px;top:1475px;width:2px;height:94px;background:#000"></div>
<div class="r" style="left:836px;top:1475px;width:2px;height:94px;background:#000"></div>
<div class="r" style="left:910px;top:1475px;width:2px;height:94px;background:#000"></div>
<div class="r" style="left:984px;top:1475px;width:2px;height:94px;background:#000"></div>
<div class="r" style="left:539px;top:1455px;width:2px;height:20px;background:#000"></div>
<div class="r" style="left:910px;top:1455px;width:2px;height:20px;background:#000"></div>
<div class="t" style="top:1457.01px;font-size:14.4px;font-weight:bold;color:#fff;left:23px;letter-spacing:-0.03px;">MATERNITY SHIRTS AND PANTS</div>
<div class="t" style="top:1478.01px;font-size:14.4px;font-weight:bold;left:23px;">SIZE</div>
<div class="t" style="top:1478.01px;font-size:14.4px;font-weight:bold;left:220.20px;width:120px;text-align:center;">6</div>
<div class="t" style="top:1478.01px;font-size:14.4px;font-weight:bold;left:295.70px;width:120px;text-align:center;">8</div>
<div class="t" style="top:1478.01px;font-size:14.4px;font-weight:bold;left:370.20px;width:120px;text-align:center;">10</div>
<div class="t" style="top:1478.01px;font-size:14.4px;font-weight:bold;left:444.20px;width:120px;text-align:center;">12</div>
<div class="t" style="top:1478.01px;font-size:14.4px;font-weight:bold;left:518.20px;width:120px;text-align:center;">14</div>
<div class="t" style="top:1478.01px;font-size:14.4px;font-weight:bold;left:592.20px;width:120px;text-align:center;">16</div>
<div class="t" style="top:1478.01px;font-size:14.4px;font-weight:bold;left:666.20px;width:120px;text-align:center;">18</div>
<div class="t" style="top:1478.01px;font-size:14.4px;font-weight:bold;left:740.70px;width:120px;text-align:center;">20</div>
<div class="t" style="top:1478.01px;font-size:14.4px;font-weight:bold;left:815.20px;width:120px;text-align:center;">22</div>
<div class="t" style="top:1478.01px;font-size:14.4px;font-weight:bold;left:889.20px;width:120px;text-align:center;">24</div>
<div class="t" style="top:1500.01px;font-size:14.4px;font-weight:bold;left:23px;">TO FIT BUST</div>
<div class="t" style="top:1498.39px;font-size:16.2px;left:220.20px;width:120px;text-align:center;transform:scaleX(0.97);">85</div>
<div class="t" style="top:1498.39px;font-size:16.2px;left:295.70px;width:120px;text-align:center;transform:scaleX(0.97);">90</div>
<div class="t" style="top:1498.39px;font-size:16.2px;left:370.20px;width:120px;text-align:center;transform:scaleX(0.97);">95</div>
<div class="t" style="top:1498.39px;font-size:16.2px;left:444.20px;width:120px;text-align:center;transform:scaleX(0.93);">100</div>
<div class="t" style="top:1498.39px;font-size:16.2px;left:518.20px;width:120px;text-align:center;transform:scaleX(0.93);">105</div>
<div class="t" style="top:1498.39px;font-size:16.2px;left:592.20px;width:120px;text-align:center;transform:scaleX(0.93);">110</div>
<div class="t" style="top:1498.39px;font-size:16.2px;left:666.20px;width:120px;text-align:center;transform:scaleX(0.93);">115</div>
<div class="t" style="top:1498.39px;font-size:16.2px;left:740.70px;width:120px;text-align:center;transform:scaleX(0.93);">120</div>
<div class="t" style="top:1498.39px;font-size:16.2px;left:815.20px;width:120px;text-align:center;transform:scaleX(0.93);">125</div>
<div class="t" style="top:1498.39px;font-size:16.2px;left:889.20px;width:120px;text-align:center;transform:scaleX(0.93);">130</div>
<div class="t" style="top:1526.01px;font-size:14.4px;font-weight:bold;left:23px;">TO FIT UNDER BELLY</div>
<div class="t" style="top:1523.39px;font-size:16.2px;left:220.20px;width:120px;text-align:center;transform:scaleX(0.97);">74</div>
<div class="t" style="top:1523.39px;font-size:16.2px;left:295.70px;width:120px;text-align:center;transform:scaleX(0.97);">79</div>
<div class="t" style="top:1523.39px;font-size:16.2px;left:370.20px;width:120px;text-align:center;transform:scaleX(0.97);">84</div>
<div class="t" style="top:1523.39px;font-size:16.2px;left:444.20px;width:120px;text-align:center;transform:scaleX(0.97);">89</div>
<div class="t" style="top:1523.39px;font-size:16.2px;left:518.20px;width:120px;text-align:center;transform:scaleX(0.97);">94</div>
<div class="t" style="top:1523.39px;font-size:16.2px;left:592.20px;width:120px;text-align:center;transform:scaleX(0.97);">99</div>
<div class="t" style="top:1523.39px;font-size:16.2px;left:666.20px;width:120px;text-align:center;transform:scaleX(0.93);">104</div>
<div class="t" style="top:1523.39px;font-size:16.2px;left:740.70px;width:120px;text-align:center;transform:scaleX(0.93);">109</div>
<div class="t" style="top:1523.39px;font-size:16.2px;left:815.20px;width:120px;text-align:center;transform:scaleX(0.93);">114</div>
<div class="t" style="top:1523.39px;font-size:16.2px;left:889.20px;width:120px;text-align:center;transform:scaleX(0.93);">119</div>
<div class="t" style="top:1548.01px;font-size:14.4px;font-weight:bold;left:23px;">TO FIT HIP</div>
<div class="t" style="top:1547.39px;font-size:16.2px;left:220.20px;width:120px;text-align:center;transform:scaleX(0.97);">92</div>
<div class="t" style="top:1547.39px;font-size:16.2px;left:295.70px;width:120px;text-align:center;transform:scaleX(0.97);">97</div>
<div class="t" style="top:1547.39px;font-size:16.2px;left:370.20px;width:120px;text-align:center;transform:scaleX(0.93);">102</div>
<div class="t" style="top:1547.39px;font-size:16.2px;left:444.20px;width:120px;text-align:center;transform:scaleX(0.93);">107</div>
<div class="t" style="top:1547.39px;font-size:16.2px;left:518.20px;width:120px;text-align:center;transform:scaleX(0.93);">112</div>
<div class="t" style="top:1547.39px;font-size:16.2px;left:592.20px;width:120px;text-align:center;transform:scaleX(0.93);">117</div>
<div class="t" style="top:1547.39px;font-size:16.2px;left:666.20px;width:120px;text-align:center;transform:scaleX(0.93);">122</div>
<div class="t" style="top:1547.39px;font-size:16.2px;left:740.70px;width:120px;text-align:center;transform:scaleX(0.93);">127</div>
<div class="t" style="top:1547.39px;font-size:16.2px;left:815.20px;width:120px;text-align:center;transform:scaleX(0.93);">132</div>
<div class="t" style="top:1547.39px;font-size:16.2px;left:889.20px;width:120px;text-align:center;transform:scaleX(0.93);">137</div>
<div class="r" style="left:19px;top:945px;width:2px;height:1px;background:#000"></div>
<div class="r" style="left:19px;top:1454px;width:2px;height:1px;background:#000"></div>
</body></html>
